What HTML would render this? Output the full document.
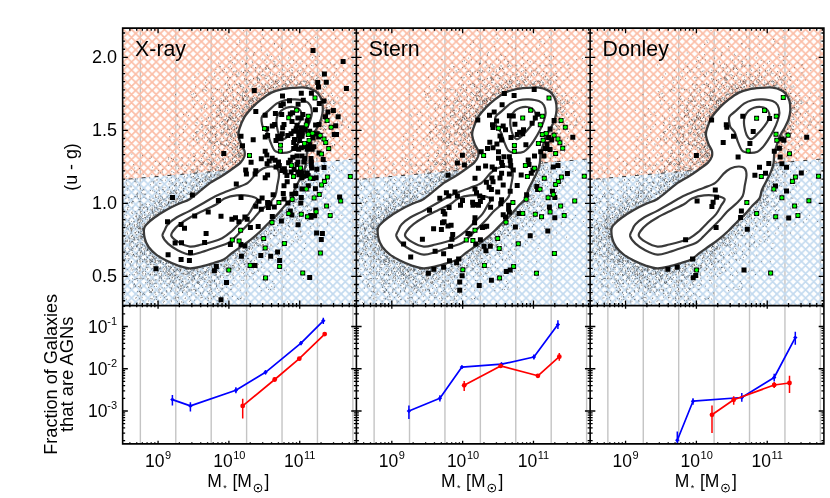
<!DOCTYPE html><html><head><meta charset="utf-8"><title>fig</title><style>html,body{margin:0;padding:0;background:#fff}svg{display:block}text{font-family:"Liberation Sans",sans-serif;fill:#000}</style></head><body>
<svg width="830" height="498" viewBox="0 0 830 498">
<defs>
<pattern id="hr" patternUnits="userSpaceOnUse" x="4.12" y="0.9" width="8.22" height="8.14"><path d="M-9.86 -1.63L1.64 9.77M-9.86 9.77L1.64 -1.63M-1.64 -1.63L9.86 9.77M-1.64 9.77L9.86 -1.63M6.58 -1.63L18.08 9.77M6.58 9.77L18.08 -1.63" stroke="#fbbda6" stroke-width="1.72" fill="none"/></pattern>
<pattern id="hb" patternUnits="userSpaceOnUse" x="4.12" y="0.9" width="8.22" height="8.14"><path d="M-9.86 -1.63L1.64 9.77M-9.86 9.77L1.64 -1.63M-1.64 -1.63L9.86 9.77M-1.64 9.77L9.86 -1.63M6.58 -1.63L18.08 9.77M6.58 9.77L18.08 -1.63" stroke="#c3daef" stroke-width="1.72" fill="none"/></pattern>
</defs>
<rect width="830" height="498" fill="#fff"/>
<defs><g id="cont"><path d="M238.5 135.6C238.2 133.1 238.4 132.0 239.4 128.9C240.4 125.8 242.3 120.6 244.4 117.1C246.5 113.6 249.2 110.8 252.0 107.8C254.8 104.8 258.1 101.9 261.3 99.4C264.5 96.9 268.0 94.3 271.4 92.6C274.8 90.9 277.9 90.1 281.5 89.3C285.1 88.5 289.4 88.2 293.3 87.9C297.2 87.6 301.7 87.2 305.1 87.6C308.5 88.0 311.4 89.0 313.6 90.1C315.9 91.2 317.2 92.5 318.6 94.3C320.0 96.1 321.3 98.4 322.0 101.1C322.7 103.8 322.9 107.5 322.8 110.4C322.7 113.4 322.0 116.1 321.2 118.8C320.4 121.5 318.9 124.2 317.8 126.4C316.7 128.7 315.4 130.5 314.4 132.3C313.4 134.1 312.9 134.8 311.9 137.3C310.9 139.8 309.4 144.8 308.5 147.5C307.6 150.2 307.2 150.7 306.8 153.4C306.4 156.1 306.6 160.4 306.0 163.5C305.4 166.6 304.5 169.1 303.4 171.9C302.3 174.7 300.7 177.4 299.2 180.4C297.7 183.4 295.6 187.0 294.4 190.0C293.2 193.0 293.6 195.8 292.0 198.4C290.4 201.0 287.2 203.1 284.8 205.7C282.4 208.3 280.2 211.3 277.6 214.1C275.0 216.9 271.9 219.7 269.1 222.5C266.3 225.3 263.7 228.2 260.7 231.0C257.7 233.8 254.2 236.9 251.1 239.4C248.0 241.9 245.4 243.6 242.2 245.8C239.0 248.1 235.2 250.6 232.1 252.9C229.0 255.2 226.8 257.9 223.7 259.6C220.6 261.3 217.3 261.9 213.6 263.0C210.0 264.1 205.7 265.5 201.8 266.4C197.9 267.3 193.9 268.5 190.0 268.4C186.1 268.2 182.1 266.8 178.1 265.5C174.2 264.2 169.9 262.3 166.3 260.5C162.6 258.7 159.2 256.9 156.2 254.6C153.3 252.3 150.5 249.7 148.6 247.0C146.7 244.3 145.5 241.6 144.8 238.5C144.0 235.4 143.7 230.9 144.1 228.4C144.6 225.9 145.8 225.3 147.5 223.5C149.2 221.7 151.4 219.8 154.5 217.5C157.6 215.2 162.4 212.2 166.3 209.9C170.2 207.7 174.2 205.8 178.1 204.0C182.1 202.2 186.1 201.3 190.0 198.9C193.9 196.5 198.4 192.3 201.8 189.6C205.2 186.9 207.1 185.0 210.2 182.9C213.3 180.8 216.9 179.1 220.3 177.0C223.7 174.9 227.0 172.6 230.4 170.2C233.8 167.8 238.2 164.8 240.5 162.6C242.8 160.3 243.6 158.7 244.3 156.7C244.9 154.7 244.9 152.9 244.4 150.8C243.8 148.7 242.0 146.6 241.0 144.1C240.0 141.6 238.8 138.1 238.5 135.6Z" fill="#fff" stroke="#3a3a3a" stroke-width="2.3" stroke-linejoin="round"/>
<path d="M262.1 116.3C263.2 114.6 265.6 113.3 268.0 111.2C270.4 109.1 273.7 105.4 276.5 103.6C279.3 101.8 281.8 100.9 284.9 100.2C288.0 99.5 291.6 99.2 295.0 99.4C298.4 99.6 302.6 100.1 305.1 101.1C307.6 102.1 309.1 103.3 310.2 105.3C311.3 107.3 311.9 110.4 311.9 112.9C311.9 115.4 311.2 117.5 310.2 120.5C309.2 123.5 307.7 127.2 306.0 130.6C304.3 134.0 301.9 137.9 300.1 140.7C298.3 143.5 296.7 145.7 295.0 147.5C293.3 149.3 292.2 150.8 290.0 151.7C287.8 152.6 284.0 153.0 281.5 152.8C279.0 152.7 276.6 152.5 274.8 150.8C273.0 149.1 271.9 145.5 270.6 142.4C269.3 139.3 268.5 134.8 267.2 132.3C265.9 129.8 263.9 129.0 263.0 127.2C262.1 125.4 261.8 123.1 261.6 121.3C261.5 119.5 261.0 118.0 262.1 116.3Z" fill="none" stroke="#3a3a3a" stroke-width="2.2" stroke-linejoin="round"/>
<path d="M271.4 166.5C273.8 166.5 276.0 167.0 277.3 168.5C278.6 170.0 279.0 172.5 279.0 175.3C279.0 178.1 277.9 182.0 277.3 185.4C276.7 188.8 276.6 193.0 275.2 196.0C273.8 199.0 271.7 200.7 269.1 203.3C266.5 205.9 262.3 208.9 259.5 211.7C256.7 214.5 254.9 217.3 252.3 220.1C249.7 222.9 246.8 225.6 243.8 228.6C240.8 231.6 236.8 235.8 234.2 238.2C231.6 240.6 231.1 241.5 228.2 243.0C225.3 244.5 221.3 245.5 216.9 247.0C212.5 248.5 206.3 250.7 201.8 252.0C197.3 253.3 193.9 254.9 190.0 254.6C186.1 254.3 181.8 252.2 178.1 250.4C174.4 248.6 170.6 246.0 168.0 243.6C165.4 241.2 163.2 238.2 162.6 236.0C162.1 233.8 163.8 232.1 164.7 230.1C165.6 228.1 166.0 226.3 168.0 224.2C170.0 222.1 173.1 219.6 176.5 217.5C179.9 215.4 184.1 213.8 188.3 211.6C192.5 209.3 197.6 206.4 201.8 204.0C206.0 201.6 209.4 199.3 213.6 197.2C217.8 195.1 223.4 192.9 227.1 191.3C230.8 189.8 232.6 189.3 236.0 187.9C239.4 186.5 244.4 185.3 247.8 182.9C251.2 180.5 253.7 176.0 256.2 173.6C258.7 171.2 260.5 169.7 263.0 168.5C265.5 167.3 269.0 166.5 271.4 166.5Z" fill="none" stroke="#3a3a3a" stroke-width="2.2" stroke-linejoin="round"/>
<path d="M277.3 116.3C278.0 114.8 279.2 112.6 280.7 111.2C282.3 109.8 284.5 108.5 286.6 107.8C288.7 107.1 291.3 106.8 293.3 107.0C295.3 107.2 297.0 107.6 298.4 108.7C299.8 109.8 301.4 111.9 301.8 113.7C302.2 115.5 301.7 117.5 300.9 119.6C300.1 121.7 298.4 124.2 296.7 126.4C295.0 128.7 292.6 131.1 290.8 133.1C289.0 135.1 287.1 137.2 285.7 138.2C284.3 139.2 283.5 139.6 282.4 139.0C281.3 138.4 279.9 136.9 279.0 134.8C278.1 132.7 277.2 128.8 276.8 126.4C276.4 124.0 276.4 122.2 276.5 120.5C276.6 118.8 276.6 117.8 277.3 116.3Z" fill="none" stroke="#3a3a3a" stroke-width="2.2" stroke-linejoin="round"/>
<path d="M257.1 199.0C257.9 200.7 254.9 203.2 253.5 205.7C252.1 208.2 250.8 211.3 248.6 214.1C246.4 216.9 243.2 219.5 240.2 222.5C237.2 225.5 233.6 229.6 230.6 232.2C227.6 234.8 225.1 236.6 222.1 238.2C219.1 239.8 215.9 240.8 212.5 241.8C209.1 242.9 205.5 243.7 201.8 244.5C198.0 245.3 193.9 247.0 190.0 246.6C186.1 246.2 181.2 243.7 178.1 241.9C175.0 240.1 172.2 237.8 171.4 236.0C170.6 234.2 171.7 233.0 173.1 231.0C174.5 229.0 177.0 226.4 179.8 224.2C182.6 221.9 186.1 219.8 190.0 217.5C193.9 215.2 198.9 212.9 203.4 210.7C207.9 208.4 213.4 206.1 216.9 204.0C220.4 201.9 221.2 199.8 224.5 198.4C227.8 197.0 232.6 195.8 236.6 195.4C240.6 195.0 245.2 195.2 248.6 195.8C252.0 196.4 256.3 197.3 257.1 199.0Z" fill="none" stroke="#3a3a3a" stroke-width="2.2" stroke-linejoin="round"/>
</g><path id="dots" d="m224.8 34.3h.70m17.7-3.8h.70m18.3 4.3h.70m52.9-4.2h.70m-90.4 7.6h.70m12.2 2.6h.70m20.3 1.1h.70m2.4-3.7h.70m14.8-1.1h.70m11.3-.4h.70m14.4 2.8h.70m.5 2.2h.70m7.6-4.3h.70m19.1 .9h.70m-99 6.2h.70m2-2.2h.70m20.6 4.3h.70m12.6-3h.70m-.6 .4h.70m3.2 3.1h.70m13.2-2.7h.70m12.7 .8h.70m4.2-1.8h.70m-91.6 9.6h.70m11.6-1h.70m12.8-1.3h.70m2-2.4h.70m5.7 4.3h.70m6.4-2.5h.70m19.1-1.7h.70m7.8 4.5h.70m5.9-1.7h.70m5.4-2.2h.70m-95.1 10.4h.70m21.3-2h.70m4 .7h.70m1.2-3.5h.70m.3 5.3h.70m8.7-1.7h.70m5.7-4.1h.70m-.5 1.3h.70m8.2 3.6h.70m3.6-4.7h.70m-.1 1.2h.70m2.4 4.3h.70m0-3.3h.70m6.1 .3h.70m.4 2.4h.70m8.7-1.3h.70m21.3-3.6h.70m.9 3.3h.70m2.7-1h.70m3.2-.1h.70m22.2 3h.70m5.5-.9h.70m-159.5 6.3h.70m27.7-1.8h.70m9.9-1.5h.70m1.2-.8h.70m1.1 1.7h.70m1.4 1.4h.70m7-2.6h.70m2.6 1.8h.70m-.7 1.4h.70m-.3-.7h.70m-.4-.4h.70m5-2.1h.70m-.5 1.3h.70m0 3.1h.70m3.3-1.6h.70m1.1 .8h.70m5.4-4.7h.70m.8 5.7h.70m-.3-3.8h.70m6.2-.8h.70m-.4 3.6h.70m.1-3.3h.70m-.7 1.6h.70m-.1 2.1h.70m2.2 .4h.70m3-.5h.70m.4 .6h.70m3.8-.1h.70m1.6-2.1h.70m3-3.1h.70m1.8 5.1h.70m-.4-3.8h.70m3 1.4h.70m1.3-1.8h.70m3.4 4.2h.70m4.4-.1h.70m1 .3h.70m1.6-1.6h.70m-.1-3.6h.70m-.2 4.5h.70m4.9-.5h.70m7.8-1.7h.70m2.7 2.2h.70m.3-.3h.70m-128.7 5.5h.70m8.3-.8h.70m3.1-2.9h.70m0 .2h.70m1.2 3.9h.70m1.4-1.2h.70m3.8-2.1h.70m.7-1.2h.70m.4 2.5h.70m1.2 3.1h.70m.9-.5h.70m.8-.4h.70m4.2 .4h.70m2.3-1.1h.70m.6 .6h.70m2.2-.2h.70m-.1 1h.70m1.5-4.4h.70m3.2 4.7h.70m-.6-4.4h.70m-.3 2.9h.70m-.6-2.4h.70m2.7 .1h.70m-.1 3.7h.70m-.3-5.1h.70m1.7 5h.70m-.5-1.7h.70m2.2-2.5h.70m-.7 1.4h.70m-.5 .5h.70m-.1-.7h.70m.4-2.7h.70m.3 2.1h.70m-.5 .4h.70m.5 1h.70m3-2.7h.70m.2-.2h.70m1.7-.3h.70m4.9 2.8h.70m.7 1.2h.70m3 1.3h.70m1-.9h.70m1.6-.8h.70m-.4-2.5h.70m-.4 3.3h.70m4.7 1h.70m-.3-1.3h.70m1.4 .3h.70m1.1-.7h.70m.3-1.3h.70m.4 3.1h.70m1.5-5.8h.70m3 5.5h.70m11.3-.1h.70m4.4-3.7h.70m8.4 .9h.70m6.4 2h.70m-149.2 6.7h.70m2.6-3.4h.70m10.1 3.1h.70m4.7-3.8h.70m-.2 3h.70m4.4-3.5h.70m2.5-.7h.70m2.5 .2h.70m.3 5.6h.70m-.5-.4h.70m2.2 .3h.70m1.5-3.4h.70m2.6 .2h.70m.1 2.2h.70m-.5-1.4h.70m.4 1.1h.70m0-3.6h.70m-.5 1.2h.70m4-1.5h.70m-.7 .2h.70m1.1 2.5h.70m1.5-2.6h.70m2.6-.6h.70m4.9 5.7h.70m.1-1.4h.70m-.7 1.3h.70m.3-3.6h.70m.3 .3h.70m1.5 1.1h.70m.3-.6h.70m.5 0h.70m.6 .8h.70m1.4 1.1h.70m1.3-1h.70m.4-2h.70m-.5-1.4h.70m1.4 1.9h.70m.8 .5h.70m1.6 .9h.70m-.2 1.5h.70m1.6-2.5h.70m-.6-2h.70m1.3 4.8h.70m.8-2.6h.70m0 2h.70m-.6-2.6h.70m.8 2.4h.70m2-.2h.70m1.6-1.2h.70m.6 2.1h.70m-.3-1.5h.70m-.4-3h.70m-.6 .5h.70m1.1 4h.70m-.4-.9h.70m-.6 1.2h.70m1.7-.6h.70m.2-1.7h.70m1.3-1.7h.70m.1 1.4h.70m1.6-.1h.70m.1-1.8h.70m1.2 .5h.70m1.6 2.1h.70m.8-1.5h.70m0 3.7h.70m1.3-.8h.70m-.6-.6h.70m.1-3.5h.70m-.4 .1h.70m2.5 2.6h.70m1.1 1.8h.70m.4-3.4h.70m.3 1.2h.70m1.5-1.8h.70m-.3 3h.70m.5 .4h.70m8.8 .3h.70m.2-4.4h.70m1.3 2.2h.70m-132.1 3h.70m0 4.8h.70m0-2.7h.70m2.6 2.7h.70m2.4-3h.70m4.5-1.4h.70m6.8 5.3h.70m2.3-3.5h.70m.1-2.2h.70m4.5 3.2h.70m3.7 2h.70m-.2 .4h.70m4.2-4.8h.70m-.7 .1h.70m0 2.1h.70m.3-1.6h.70m-.4-.2h.70m.3 4.6h.70m1-3.2h.70m-.5 0h.70m.8-.9h.70m-.4 2.5h.70m1.6-3.5h.70m-.4-.3h.70m.8 4.9h.70m1.4-4.8h.70m-.4 2.2h.70m-.6-1.2h.70m-.6-1.5h.70m-.7 4.5h.70m-.1-4.4h.70m-.1 4.6h.70m-.6-4.3h.70m-.5 1.1h.70m-.6 .9h.70m-.2-.7h.70m.9 3.6h.70m2.1-5.3h.70m.3 5.8h.70m-.1-5.5h.70m-.4 .2h.70m1.2 4.6h.70m-.3-2.8h.70m1.2-2.1h.70m.4 4.4h.70m-.6-2.8h.70m.7 .8h.70m-.6 1.2h.70m-.7 .2h.70m.6 1.9h.70m.4-2h.70m-.4-1.6h.70m-.7 1.1h.70m-.7 .4h.70m-.3 1.9h.70m-.1-1.9h.70m-.6-2.4h.70m-.1 3.7h.70m-.5 .5h.70m-.6-2.4h.70m-.1-.9h.70m-.7 2.2h.70m.3-1.3h.70m1.7-2.5h.70m.9 1.7h.70m-.2 .3h.70m.5 2.9h.70m-.2-1.8h.70m-.3 1.9h.70m-.6 .1h.70m.6-3.9h.70m.3-1.6h.70m-.1 2.4h.70m-.2 .8h.70m-.7 .8h.70m.3-2.7h.70m-.6 3.3h.70m-.3-.2h.70m-.3-3.3h.70m-.2 1.2h.70m0 1h.70m1.2-2h.70m1.8 1.3h.70m-.3 1.7h.70m1.3 1.3h.70m0-.3h.70m-.4-1.7h.70m-.4 .9h.70m-.2 .9h.70m.1-2.2h.70m.7-.6h.70m-.2 .7h.70m.1 .3h.70m-.5-1.1h.70m.1 1h.70m-.5 1.9h.70m-.3-2.2h.70m-.2 1.1h.70m.2-2h.70m.4 1.6h.70m-.2 1.1h.70m0-.5h.70m.6-3.5h.70m1.2 .5h.70m-.1-.7h.70m-.4 3.1h.70m-.3-1.4h.70m-.6 2.3h.70m.1-3.3h.70m.3 .9h.70m-.5-2h.70m-.3 4.4h.70m2.3-1.2h.70m1.3-2h.70m.3 .5h.70m6.5-.2h.70m7.3-.2h.70m-143.2 6.7h.70m7.7 2.8h.70m.6-3.3h.70m.7 1.4h.70m3.9 .6h.70m1.9 .7h.70m.7-.2h.70m1 1.2h.70m-.4-.4h.70m1.2 .2h.70m5.1-5h.70m.6 4.9h.70m.4 .1h.70m-.5-4.5h.70m-.2 2h.70m.5-2.7h.70m-.5 .7h.70m-.6 3.4h.70m2.1 .9h.70m-.6-2.2h.70m1.3-2.4h.70m1-.5h.70m.1 .1h.70m.5 3.3h.70m.4-2.8h.70m.4 .8h.70m-.4 .7h.70m-.6-2h.70m-.4 1.8h.70m.6 2.8h.70m-.1-2h.70m-.4 .6h.70m2.6 1.7h.70m.9-3.1h.70m-.1 .2h.70m.6-1.7h.70m.2 3.8h.70m-.5 1.2h.70m-.1-2.7h.70m-.1 2.3h.70m-.5-3.2h.70m.5-1.7h.70m-.6 1.6h.70m1.2 2.6h.70m-.5-3.1h.70m.1 2h.70m-.7 1.9h.70m1.3-2.7h.70m-.1-.7h.70m1.1 .8h.70m.1 1.3h.70m-.6 .9h.70m-.4-4.8h.70m-.5 2h.70m.4 1.4h.70m-.5-1.4h.70m-.6 3.1h.70m-.1-2.6h.70m-.3 2.9h.70m-.5-.9h.70m-.3 .8h.70m-.6-4.8h.70m.4 .3h.70m0 2h.70m-.6 2.6h.70m-.5-4.4h.70m-.4 1.6h.70m0 1.7h.70m-.6-.5h.70m-.1-3.5h.70m-.5 3.9h.70m-.3 .1h.70m-.3-1.9h.70m-.2 1.4h.70m-.5-.5h.70m-.2-2.2h.70m-.5 4h.70m.2-2.3h.70m-.2 0h.70m-.4 .6h.70m-.6-3.7h.70m-.7 3.4h.70m-.7 2.5h.70m.7-5.1h.70m-.7 4.1h.70m-.2-1.2h.70m0-1h.70m-.1-.2h.70m-.6 1.3h.70m.4 1.1h.70m-.3 .5h.70m-.4-4h.70m-.4 .7h.70m2.2 .1h.70m-.4-.1h.70m-.3 .6h.70m-.3-2.5h.70m-.4 .7h.70m-.2 3h.70m-.2-3.1h.70m0 3h.70m-.5-1.9h.70m-.5-.7h.70m-.3 3h.70m-.5-1.5h.70m0-1.8h.70m.1 .2h.70m-.7 1.3h.70m.2-1.5h.70m1.7 0h.70m-.7 2.8h.70m-.3 .1h.70m-.2-2.6h.70m-.1 2h.70m0-2.1h.70m-.3 2.2h.70m.2-3.3h.70m.7 .9h.70m.2 .5h.70m-.6-.5h.70m0-.9h.70m.4 .1h.70m.1 .5h.70m.7 .1h.70m.2 1.2h.70m-.1 1.5h.70m.1-1.2h.70m1.2 .9h.70m-.1-2.1h.70m-.4 .5h.70m-.3 1.8h.70m-.6-1.7h.70m-.5 .9h.70m-.1-.9h.70m-.4 .6h.70m-.4-.6h.70m-.2 1.8h.70m-.4-2.7h.70m-.1 3.8h.70m-.6-2.6h.70m-.5-1.4h.70m.4 2.7h.70m-.6 1h.70m-.6 0h.70m-.1-.8h.70m.3 .3h.70m.9-2h.70m-.6 3h.70m.5-.8h.70m.6-3.5h.70m-.3 3.6h.70m-.3 1.5h.70m-.2 0h.70m-.6 0h.70m.1-2.3h.70m2.3 1.8h.70m.7 .3h.70m-.5-3.1h.70m.4 1.1h.70m.4-1.3h.70m.2 1h.70m-151.9 7.6h.70m14.7-3h.70m.4 3h.70m1.1-.8h.70m.9-.5h.70m6.5-3.3h.70m-.2 1.1h.70m1.8-1h.70m.4 .7h.70m5 1.6h.70m8.8-2.2h.70m-.7 1.9h.70m.7 3.1h.70m-.2-.4h.70m-.6-1.8h.70m2.2-2.2h.70m1.3 2.5h.70m1 2.6h.70m-.6-4.8h.70m1 1.1h.70m-.3-1.9h.70m-.4 4.5h.70m-.5-4.5h.70m3.3 4h.70m-.5-1.6h.70m-.4-.3h.70m.5 .9h.70m.4 1.2h.70m0 1h.70m.7 .1h.70m-.4-.6h.70m-.2-1.6h.70m-.5-1.3h.70m-.1-.3h.70m.1 3.8h.70m-.7 .2h.70m0-3.3h.70m-.6-1.6h.70m-.2 .6h.70m-.2 .8h.70m-.4 2.8h.70m-.2-4.2h.70m-.4 .2h.70m.5 4.6h.70m2.9-1.9h.70m-.2-.2h.70m.5-.7h.70m.3-1.9h.70m1.7 2h.70m.4-.2h.70m-.7 2.8h.70m-.3-1.1h.70m-.4 .8h.70m-.2-2.5h.70m-.7 1.8h.70m-.5-.7h.70m0 .7h.70m-.5-3.2h.70m-.5 2.7h.70m-.4-4h.70m-.5 4.1h.70m-.1 1.5h.70m-.5-1.8h.70m0-.6h.70m-.2 1.5h.70m.4-1.3h.70m-.5-1.4h.70m-.5 1.4h.70m-.6-2.9h.70m-.2 2.3h.70m-.6-1.7h.70m-.2 4.1h.70m-.5-.1h.70m-.2-2.7h.70m-.7 3h.70m0-5.3h.70m-.1 2.5h.70m-.7 1.5h.70m-.6-2.6h.70m-.4 1.2h.70m-.2-.5h.70m-.7 .8h.70m-.5 .6h.70m.2-1.7h.70m-.5 .5h.70m-.3 .4h.70m-.6-1.8h.70m.6-.2h.70m1.3-.5h.70m-.1 .9h.70m.2-.3h.70m39.2-.6h.70m-.7 .6h.70m-.1-.7h.70m-.5 0h.70m.9 2.3h.70m-.1-1.3h.70m-.5 1.1h.70m-.7 1.4h.70m-.3-.1h.70m-.5-1.1h.70m1 .6h.70m-.3 1.6h.70m-.2-3.6h.70m.4 2.3h.70m0-.1h.70m3.9 2.3h.70m2.6-2.4h.70m.2 2.2h.70m10.2-2.3h.70m3.6-2.9h.70m-188.2 10.2h.70m31.5-3.1h.70m-.1 3.5h.70m1.4-3.7h.70m.9-1.2h.70m0 4.5h.70m8.7-.6h.70m3.6 1.7h.70m-.2-3.6h.70m-.4 .5h.70m.3 1h.70m-.3-2.8h.70m-.2 2.3h.70m.7 2.4h.70m1.3-1.2h.70m3.2-1.6h.70m-.2 1.8h.70m.7 1.4h.70m-.1-1.7h.70m-.6 .6h.70m-.3 .6h.70m.4-4.6h.70m-.6 4.7h.70m-.4-3.3h.70m-.3 1.2h.70m.1-3.2h.70m-.2 4.9h.70m-.4-3.9h.70m-.6 4.3h.70m-.3-.4h.70m2.2-1.2h.70m1.3 .3h.70m-.2-2.3h.70m-.4-1.3h.70m-.6 4.6h.70m1.7-2.2h.70m-.1 .6h.70m.7 .8h.70m-.2 .3h.70m.3-2.9h.70m2.1-.4h.70m-.6-1h.70m-.7 4h.70m-.6-1h.70m-.6-1h.70m-.1 .1h.70m-.7 1.3h.70m-.6 .8h.70m-.6-1.6h.70m-.7 1h.70m.8 .6h.70m-.3 .1h.70m-.6-4.1h.70m.9 3.2h.70m0-2.5h.70m-.7 .8h.70m-.2-1.8h.70m-.5 4.9h.70m-.5 .7h.70m-.4-.9h.70m-.1-.8h.70m-.3 .5h.70m-.2-.8h.70m-.5 1.3h.70m-.6-.2h.70m-.6-2.6h.70m-.4 3h.70m-.3-1.5h.70m-.2-1.6h.70m-.4 .5h.70m-.5 1.2h.70m-.7 .8h.70m-.5-1.7h.70m-.6 1.3h.70m-.2 1.6h.70m-.6-.9h.70m-.6-4.7h.70m-.5 2.4h.70m-.7 2.6h.70m.2-3.6h.70m-.4 .4h.70m-.2 1.5h.70m.2-.3h.70m-.6-1.7h.70m-.7 2.9h.70m-.3-.1h.70m-.6-1.8h.70m-.3 .3h.70m-.7 2.2h.70m-.6-4.1h.70m.8 1.2h.70m-.5 .3h.70m.2 1.1h.70m.5-.9h.70m-.5-.4h.70m1.7-1h.70m0 .1h.70m-.5-.9h.70m55.6 1.5h.70m.2-1.8h.70m-.4 0h.70m-.4 2.2h.70m0 1.3h.70m-.6 1.2h.70m-.5-3.7h.70m.6 4.1h.70m-.4-2.4h.70m.7 1.5h.70m1.1-.5h.70m-.6-3.7h.70m1.5 5.6h.70m.5-2h.70m.9 .4h.70m-.7 1h.70m3.4-3.4h.70m3.7 0h.70m8.6-1.5h.70m-158.7 10.9h.70m.3-3h.70m6.3-.6h.70m2.3 3.8h.70m-.6-1.5h.70m.5-1.5h.70m4.4 2.4h.70m.8-.8h.70m.3-1h.70m-.6 .6h.70m1.3-.1h.70m3.2-.4h.70m-.2-3.1h.70m-.7 3.7h.70m-.4 1.2h.70m.4-3.9h.70m-.3-.1h.70m1.1 2.3h.70m1.5 1.5h.70m.9-.3h.70m-.4-1.2h.70m1.1 .2h.70m-.2-1.5h.70m.6 2.5h.70m.7-.4h.70m-.5 1.7h.70m-.4 0h.70m-.5-3.8h.70m.6 1.5h.70m-.6-.6h.70m-.7 2.8h.70m.5-1.5h.70m-.5-1.5h.70m-.1 1.9h.70m.3-4.4h.70m-.5 3.1h.70m-.6 .3h.70m0 1.7h.70m1.6-1.9h.70m-.6 .4h.70m.1-3.7h.70m1.5 1.9h.70m-.3 3.6h.70m.1-.8h.70m-.2-2.1h.70m-.1 .4h.70m-.3 1.8h.70m.3-.1h.70m-.2 .5h.70m-.6-2.7h.70m-.1-.7h.70m-.6 2.4h.70m-.6 1.3h.70m-.6-5.1h.70m-.6-.2h.70m-.6 5.7h.70m-.6-4.5h.70m.9 .2h.70m-.6-.3h.70m-.5 2.1h.70m-.5-.1h.70m-.7 1.3h.70m-.5 .3h.70m0-.1h.70m-.6-4.4h.70m-.3 1.7h.70m-.3 .3h.70m-.6 .4h.70m.1 .4h.70m-.3 .2h.70m-.3-1.4h.70m.1-1.4h.70m.2 0h.70m66.2 .4h.70m-.3 .1h.70m-.5 .4h.70m.1 4.1h.70m.7-.4h.70m-.6-2.1h.70m-.5 2.8h.70m-.4-5.6h.70m-.5 1.1h.70m-.7 4.1h.70m.9-3.8h.70m-.3 3h.70m-.4-4.5h.70m.3 1.1h.70m.2 4.5h.70m1.2-4.3h.70m.2 .1h.70m-.6-1.5h.70m.5 .2h.70m2.5 .7h.70m.6-.1h.70m5 .8h.70m-178.7 6.7h.70m12.6-1.7h.70m4.9 3.5h.70m13.7-3h.70m0 1.6h.70m-.5-2.8h.70m4.1 .4h.70m3.6 4.3h.70m4.8-.6h.70m-.4 .8h.70m-.3-4.9h.70m-.7 2.4h.70m.9 .7h.70m-.5-3.1h.70m-.6 1h.70m0 1.4h.70m-.3-.1h.70m-.5 2.1h.70m-.6-2.1h.70m-.3 3.6h.70m-.5 0h.70m.5-2.9h.70m1.7 .3h.70m.3-2.8h.70m-.7 1.5h.70m1 .9h.70m1 2.5h.70m.9-3.7h.70m-.4 2.5h.70m-.5 .4h.70m-.7 .2h.70m.3-1.8h.70m-.1 2.6h.70m-.3-.2h.70m.9-2.3h.70m.1-.1h.70m-.5 2.3h.70m-.6-2.3h.70m0-2.3h.70m0-.3h.70m1.3-.2h.70m-.5 .7h.70m-.7 2.9h.70m0 1.5h.70m.8-2.2h.70m-.3 0h.70m-.7 .8h.70m-.6-3.4h.70m-.5 1.2h.70m-.4 3h.70m-.5-1h.70m-.2-2.7h.70m-.6 4.3h.70m-.5-3.8h.70m-.7 1.3h.70m.4 1.8h.70m-.6-2.4h.70m.3 3.3h.70m-.6-1.4h.70m.2 0h.70m-.3-3.8h.70m.3 .7h.70m-.6 .6h.70m.5-.2h.70m-.4 .4h.70m0-.9h.70m.1-.9h.70m71.2 3.8h.70m-.1-2.9h.70m-.5 3.3h.70m-.2-1.8h.70m-.6-1.7h.70m-.5 4.8h.70m.6-5.3h.70m-.4 1.2h.70m.1 2.7h.70m.3 0h.70m-.1-.3h.70m0-1.2h.70m-.2 1.2h.70m-.2-2.5h.70m1.8 4.4h.70m3.9-.3h.70m1.1-1.7h.70m.9-.6h.70m-165 3.9h.70m.2 1.1h.70m5-1.6h.70m4.2 1.1h.70m5.9 .4h.70m1.2 2.1h.70m-.1 1h.70m3.7-.9h.70m2.5-3h.70m1.2 3.8h.70m.8-1h.70m-.5-.3h.70m.9-.6h.70m1.7-2.5h.70m.4 3.6h.70m.6 .8h.70m1.2-3h.70m-.7 1h.70m-.6-.4h.70m.4-1.2h.70m-.4 .1h.70m.1 1.6h.70m-.2-1.9h.70m.7 2.5h.70m-.5-2.7h.70m.1 2h.70m1 2.9h.70m-.4-.3h.70m-.1-5h.70m.1 5h.70m.2-1.4h.70m-.6-2h.70m0 3.6h.70m.6-.1h.70m-.4-3.4h.70m-.7 1.2h.70m-.5 .2h.70m-.6-2.7h.70m-.5 2.9h.70m-.3-.7h.70m-.4-1.4h.70m-.2 2.9h.70m-.6-3h.70m-.7 2.6h.70m-.7 1.4h.70m-.5-5.7h.70m-.5 4.1h.70m-.2 1.6h.70m-.4-3.3h.70m0 .9h.70m-.3 .9h.70m-.6 0h.70m-.6 .5h.70m1.3-.3h.70m-.2-3.4h.70m-.5 2.1h.70m-.7 .3h.70m0-.4h.70m-.2-1.6h.70m0 3.1h.70m-.4 1.1h.70m0-5.2h.70m.2 2.2h.70m.2-.7h.70m.1 1.1h.70m-.5-1.4h.70m-.5-.3h.70m-.6 .5h.70m-.5 2.5h.70m-.5-1.8h.70m-.6-1.5h.70m-.2 3h.70m-.4-1.5h.70m-.1-1.6h.70m.3 .9h.70m-.2-.4h.70m-.5 .6h.70m76.3 2.6h.70m-.3-3.2h.70m-.2 .2h.70m-.7 .9h.70m.4 3.1h.70m0-2.7h.70m0 2.4h.70m-.5-4.6h.70m-.7 2.6h.70m-.1 1.8h.70m.5-4.4h.70m.4 .3h.70m1.2 3h.70m1.1-3.7h.70m1.7 3h.70m4.8-1.9h.70m1.6 3.7h.70m2.4-2.3h.70m-.1 2.3h.70m5.1-5.1h.70m-175.5 10.9h.70m6.4-4h.70m2.5 3.4h.70m7.4 1.2h.70m-.6-3h.70m.4 .6h.70m3.7 1.2h.70m0-3.4h.70m-.4 3.9h.70m2.2 .8h.70m.4-4.1h.70m-.4 3.9h.70m.7-.1h.70m.8-4.3h.70m1.6 .2h.70m2.8 1.7h.70m.8-1.8h.70m-.3 2.5h.70m1.5 1.6h.70m-.3-.6h.70m.9-2.2h.70m-.2-.8h.70m-.3 .1h.70m-.3 3.1h.70m-.3-.9h.70m.5 1h.70m-.5-.7h.70m-.3-3.9h.70m-.5 5h.70m-.1-1.6h.70m.4-2.6h.70m-.6 .6h.70m-.5 .4h.70m-.6-1.6h.70m-.4 .6h.70m-.6 4h.70m-.2-5.1h.70m.9 5h.70m.1 .8h.70m-.1-1.7h.70m0-1.5h.70m.1-2h.70m.1 4.3h.70m-.4-4.4h.70m-.5 1.1h.70m-.3-.4h.70m.3 3.7h.70m-.6-3.6h.70m-.4 2.8h.70m-.3 .1h.70m.8-2h.70m-.6-1.1h.70m-.7 3.2h.70m-.6-3h.70m-.2 .1h.70m0 3.8h.70m-.2-5.1h.70m0 2h.70m-.6 .8h.70m-.1-1.8h.70m-.6 3.3h.70m-.5-1.2h.70m-.2-.4h.70m77.5 .1h.70m-.1-.9h.70m-.4 2.3h.70m-.4-1.1h.70m-.5-1.5h.70m-.5 3.7h.70m-.4-5.3h.70m-.7 3.1h.70m-.1-2.3h.70m-.2 4.8h.70m.3-3.9h.70m-.5 .8h.70m-.3 3.2h.70m.6-2.5h.70m1.8-1.1h.70m-.2-.5h.70m-.3 2.4h.70m.8-.2h.70m1.6-1.2h.70m2.5 1.9h.70m.3-2.6h.70m3.1 3.6h.70m-.4-.7h.70m.2-3h.70m-.6-1.2h.70m-.4 4.3h.70m.5-2.8h.70m5.8 .1h.70m-172 4.6h.70m3.2 2.6h.70m1.7-2.7h.70m10.2 4.9h.70m.1 .2h.70m.1-.5h.70m1.2-1.9h.70m1.3-2.5h.70m-.7 .6h.70m.1-1.3h.70m-.5 4.4h.70m2.5-.7h.70m.4-.9h.70m.1-1.2h.70m-.1 2.5h.70m.9 1.3h.70m-.6-3.8h.70m-.2-1.1h.70m.3 1.2h.70m-.4 .5h.70m-.6-2.3h.70m-.1 .6h.70m-.3 .6h.70m-.1-.5h.70m-.7 3.1h.70m-.3-1.7h.70m-.2-2.2h.70m.3 .2h.70m.2 5.4h.70m-.3-4.1h.70m2.3-1.4h.70m-.2 .5h.70m.1 4h.70m1.5-1.7h.70m-.3 2.7h.70m-.6-1.8h.70m0-1.4h.70m-.4-1.1h.70m1.5-1.1h.70m-.7 3.1h.70m-.2-1.7h.70m-.6 1.3h.70m-.5-.4h.70m-.5-1.6h.70m-.1 2.5h.70m-.2 .5h.70m-.5-.5h.70m.9-.3h.70m-.5 2.5h.70m-.5-3h.70m0-1.4h.70m.2 2.8h.70m-.1-3.6h.70m-.2-.2h.70m-.7 1.8h.70m-.7 1.4h.70m-.5 .4h.70m-.2-2.8h.70m-.6 1.5h.70m.6-.3h.70m-.5-.8h.70m-.7 1h.70m.1-1.3h.70m0 3.8h.70m-.2-.1h.70m76.8-.3h.70m0 0h.70m-.6-.1h.70m-.3 1.1h.70m-.6-.5h.70m.1 .1h.70m-.6-3.7h.70m1.2 .5h.70m-.7 1.3h.70m-.6 .2h.70m.3-.5h.70m.5-2.2h.70m-.4-.3h.70m-.3 4h.70m-.5-1.1h.70m-.3-2.3h.70m-.1 1.4h.70m0 1h.70m-.3 .4h.70m-.3-3.3h.70m-.7 2.8h.70m5.5 1.3h.70m2.1 .8h.70m4.3-4.3h.70m7.8 .1h.70m-.5-.3h.70m-179.7 9.6h.70m2.1-3.1h.70m6.3 2.1h.70m3.3-3.3h.70m9.4 3.5h.70m1.4-3.2h.70m-.3 4.2h.70m-.5-4.2h.70m0 1.1h.70m5 2.2h.70m-.2-.9h.70m1.5-.3h.70m-.6-2.3h.70m.5 1.4h.70m.5 3.8h.70m1.6-3.7h.70m-.6-1.6h.70m1.3 1.8h.70m-.2-.8h.70m-.5 4.3h.70m1.6-3.4h.70m-.5 2.3h.70m-.5-2h.70m-.6 3h.70m-.4-1.2h.70m-.5-1h.70m-.5-1.4h.70m.6 1.2h.70m2.4-2h.70m-.2 1.9h.70m-.6-2.1h.70m-.2 .1h.70m.3 1.1h.70m-.5-1.2h.70m-.5-.5h.70m2 .1h.70m-.6 2.2h.70m0-.9h.70m-.5 1h.70m-.1 3h.70m-.2-2.1h.70m-.3-1.2h.70m.6-1h.70m-.6-.9h.70m-.4 2.8h.70m-.3-2.4h.70m-.6 3.3h.70m-.5-1.9h.70m-.1 1.7h.70m-.6 1.1h.70m.1-1.4h.70m-.6-1.9h.70m1.4-.6h.70m-.6 1.3h.70m-.4 2.2h.70m-.5-1.5h.70m-.4-.4h.70m-.7 1.4h.70m.2-4.1h.70m-.4 .4h.70m-.5 .3h.70m-.6-.7h.70m-.4-.1h.70m-.6 2h.70m-.7 3.5h.70m-.5-3h.70m-.7 .6h.70m75.5 .1h.70m-.7 .8h.70m0-1.9h.70m-.3 .9h.70m-.6-2.3h.70m-.7 3.1h.70m0 .4h.70m-.6-3.6h.70m.1-.6h.70m.2 2.1h.70m-.5 3.3h.70m-.2-3.6h.70m-.1-1.8h.70m.1 .7h.70m-.2-.2h.70m.1-.3h.70m-.7 .3h.70m1 .8h.70m-.2 1.9h.70m.1-2.2h.70m-.7 .5h.70m2.3-.4h.70m2.7 4h.70m3.2-.2h.70m5.3-3h.70m-170.8 6h.70m3.3-.2h.70m5.1-.3h.70m3.5 .7h.70m5.3-1.5h.70m2.5 .1h.70m-.7 .9h.70m2.5 .1h.70m-.3 .3h.70m.2 2.8h.70m.2-4.8h.70m-.3 .8h.70m-.6 4.1h.70m2.3-4.2h.70m1.7-.8h.70m2.2 2.3h.70m.7-1.2h.70m-.5 3.1h.70m-.6-3.5h.70m-.2 3h.70m-.5-1.1h.70m-.3 .1h.70m-.3 1.5h.70m.5 .8h.70m-.5 .1h.70m.2-1.4h.70m.4 .4h.70m-.1 1.4h.70m-.2-3.8h.70m-.5 3h.70m0-3.8h.70m0 2.9h.70m-.4-.2h.70m-.2 0h.70m.9-2.4h.70m.6 4.3h.70m-.5-4.7h.70m-.5 3.9h.70m-.4-1.5h.70m-.7 2.2h.70m1.1-1.7h.70m-.2-3.4h.70m1 2.5h.70m.6 3.1h.70m-.6-3.3h.70m-.3 .2h.70m-.5-1.7h.70m.1 1h.70m.3 2.5h.70m.1-2.3h.70m0 2.1h.70m-.6-4h.70m-.6 4.1h.70m.4-3h.70m-.3 3.6h.70m.6-5.1h.70m-.6 2.7h.70m-.6 3h.70m-.5-5.4h.70m-.1 5.3h.70m.5-3.1h.70m-.6-.4h.70m1.2 3.4h.70m-.3-3.5h.70m-.5 3.1h.70m-.5-.1h.70m-.2-3.5h.70m-.7 .4h.70m.2 1.1h.70m-.6 .5h.70m-.4 2.2h.70m69.9-.9h.70m-.1 .8h.70m-.4-3.6h.70m-.6 .5h.70m-.3 1.2h.70m-.7 1.1h.70m-.3-4h.70m.9-.6h.70m-.3 .8h.70m-.6 2h.70m-.7 1h.70m-.1-.3h.70m-.5-1.6h.70m.7 1.8h.70m-.4 1.6h.70m.3-2.5h.70m-.4-2.6h.70m-.4 3.3h.70m1.9-1.3h.70m2.2-2.1h.70m.4 4.8h.70m2.1-3.6h.70m2.1 4h.70m1.8-5h.70m5.4 2.4h.70m5-1.5h.70m-177.2 6.8h.70m5-2.2h.70m3.6 .4h.70m0 3h.70m7.1-3.4h.70m1.8 1.8h.70m3.2 .1h.70m9.2 1.5h.70m1-2.4h.70m1.8 3h.70m4.6-1.6h.70m-.7 2.1h.70m-.5-1.4h.70m.2-1.6h.70m0 .1h.70m2.7-.9h.70m-.7 3.1h.70m.6 1.5h.70m.6-4.7h.70m.4 0h.70m-.6-.3h.70m.5 .8h.70m0 3.3h.70m-.2-3.2h.70m-.1 .6h.70m-.7 .4h.70m.5-1.4h.70m.1 .3h.70m-.2 4.5h.70m-.4-4h.70m-.1 .6h.70m-.4-1.1h.70m-.1-1.1h.70m-.4 3.9h.70m-.1-.3h.70m.3 0h.70m-.2 .8h.70m-.2-2.6h.70m-.6 4h.70m-.6-.4h.70m-.5-.7h.70m.7-1.5h.70m-.5-3.1h.70m0 .8h.70m-.4 .1h.70m-.7 .2h.70m-.6 4.2h.70m-.3-1.6h.70m.4-.5h.70m-.6-.8h.70m-.6 .9h.70m-.6-1.2h.70m-.3 3.1h.70m-.5-2.9h.70m-.6 2.7h.70m-.2-4.1h.70m.3 2.6h.70m-.6-1.9h.70m-.6 2.6h.70m-.7 .2h.70m-.6-2.3h.70m-.1-.1h.70m-.6-1h.70m-.5 2.2h.70m.2 2.3h.70m0-2.3h.70m-.6 2.6h.70m65.8-1.4h.70m-.7 1h.70m0-2h.70m-.6 1.8h.70m-.5 .2h.70m.4-.9h.70m-.3-1.6h.70m-.4-1.2h.70m-.7 .2h.70m1.1 1.6h.70m-.6-1.3h.70m-.3-1.7h.70m-.7 4.3h.70m-.2 .3h.70m-.2-2.9h.70m-.4 2.3h.70m1.3-.8h.70m3.1 1.8h.70m-.3-.2h.70m1.5-5.2h.70m.1 .6h.70m2.5 4.5h.70m0-2h.70m3.1-.5h.70m-.4-1.2h.70m1.3-1h.70m-.7 .4h.70m7.3 1.4h.70m-211.3 7.7h.70m9.8 1.3h.70m26.1-5.4h.70m2.2 4.9h.70m5.5-.2h.70m7-4.5h.70m3.6 4.8h.70m2.9-1.6h.70m.9 1.9h.70m4.6-3.3h.70m1.6 1.3h.70m0 2.4h.70m-.2-5.2h.70m-.5 3.1h.70m-.4-.4h.70m-.3-2.2h.70m1.3 1.9h.70m3.3 1.7h.70m-.1 .2h.70m.1-2.1h.70m-.4 1.5h.70m-.5 .3h.70m1.5-4.1h.70m-.7 4.9h.70m-.3-1.5h.70m-.5 .9h.70m1.4-.4h.70m.1-3.6h.70m.1 1.3h.70m1.3 3.3h.70m-.3-.4h.70m-.4-2.5h.70m-.3-.9h.70m-.1-.6h.70m3 3.1h.70m2.2-1.9h.70m.7 2h.70m.6 1.4h.70m-.6-.8h.70m-.3 .2h.70m-.6-3.1h.70m-.6 .5h.70m.2-2.2h.70m-.6 3h.70m-.6-1.4h.70m.2 1h.70m-.6 2.8h.70m-.3-5.4h.70m.5 4.8h.70m-.5-.4h.70m-.5-2.8h.70m-.3-.6h.70m-.6 0h.70m-.4 2.4h.70m-.5 .6h.70m-.5-.9h.70m-.6 2.5h.70m-.6-3h.70m-.4-1h.70m-.5 3.4h.70m-.5-.3h.70m-.3-1.7h.70m-.4 .1h.70m-.7 2.5h.70m-.6-5.4h.70m-.3 3h.70m-.1-.3h.70m-.7 2.1h.70m-.1-1.4h.70m-.5 1.6h.70m-.5-3.4h.70m-.6 3.4h.70m64.8-3.4h.70m-.6 1.1h.70m-.4 .2h.70m-.3-2.4h.70m-.4 .2h.70m-.3-.5h.70m.4-.4h.70m.2 .6h.70m-.6 2.2h.70m-.2-1.6h.70m.3-1h.70m-.3 1.8h.70m1.5-1.1h.70m10.4-.2h.70m-.4 3h.70m3.2-2.2h.70m13.6 2.8h.70m-195.8 4.2h.70m.9-1.5h.70m3.4 4.4h.70m10.5-.2h.70m.7-3.6h.70m-.6 1.4h.70m2.5-.6h.70m.1 3.1h.70m.4-2.1h.70m2.7 .3h.70m4.2-2.3h.70m-.4 1.3h.70m5.4-1h.70m4.4-1.2h.70m-.5 4.5h.70m.4-4.6h.70m-.7 3.6h.70m-.6 .6h.70m-.5-.8h.70m3.1 .8h.70m.1 .9h.70m.9-1h.70m-.4-2.1h.70m.7-2h.70m.9 5.3h.70m1-4.8h.70m.2 2.5h.70m.3 .3h.70m.2-.4h.70m-.3-1.8h.70m-.4 2.6h.70m.4 1.3h.70m1.5-3.2h.70m-.5 1.4h.70m.1 1.5h.70m1.2-1h.70m1.1-.3h.70m.2-2.1h.70m.4 1h.70m-.2 2.1h.70m1.1 .1h.70m-.1-2.2h.70m-.6-2.4h.70m-.5 3.2h.70m.1-.3h.70m-.7 .5h.70m.8-1.4h.70m-.4 2.9h.70m-.6-1.6h.70m.8-2.7h.70m.4 2.2h.70m-.2-1.9h.70m-.5-.7h.70m-.4 5.1h.70m.2-5.5h.70m-.4 4h.70m-.5 1.7h.70m1-3.2h.70m-.6 .3h.70m-.6 .7h.70m-.4 1.8h.70m.1-3.3h.70m-.1-1.6h.70m-.3 3.8h.70m-.5-3.4h.70m-.5 .3h.70m-.2 3.8h.70m-.7 .7h.70m-.4-5.6h.70m.1 .2h.70m-.7 4.1h.70m-.5-2.4h.70m.8-2.1h.70m-.4 1.4h.70m-.4 2.7h.70m-.2 .6h.70m-.5 1.2h.70m-.6-4.8h.70m-.6-.8h.70m-.6 4.4h.70m-.5-4.6h.70m-.6 .5h.70m0 .4h.70m-.5 1.2h.70m-.4 2.5h.70m64.8-2h.70m.4 2.7h.70m-.2-.3h.70m-.4 .8h.70m.9-3h.70m1.1-1.5h.70m-.6-.7h.70m3.4 4.2h.70m-.6-2.8h.70m-.6 .9h.70m1.7-2.8h.70m1.5 5.1h.70m-.4-3.6h.70m-.2 3.9h.70m3-1.4h.70m2.4-2.1h.70m9.5 0h.70m11.3 2.8h.70m-218.1 3.7h.70m18.1 2.6h.70m5.9-2h.70m-.3-1.9h.70m.2 1.1h.70m7.8 1h.70m2.3 .6h.70m4.1-1.1h.70m.7 1.2h.70m-.6-2h.70m2.6 2.1h.70m.1-1.4h.70m-.1 .4h.70m2.9 .1h.70m.9 .3h.70m.2-1.5h.70m.9 .8h.70m3.4-.2h.70m1.7 1.7h.70m-.5-.3h.70m2.4-3.8h.70m-.7 4.5h.70m0-2.2h.70m.1-.5h.70m-.4 .8h.70m-.6-1.9h.70m-.1 1.5h.70m-.6-2.4h.70m-.2 .4h.70m-.3 .9h.70m1.5 .8h.70m.4 1.4h.70m-.6-1.8h.70m0 .6h.70m.2-.9h.70m.5 3.4h.70m-.6-2.5h.70m0 .1h.70m0-2.5h.70m-.7 3.2h.70m-.5-1.3h.70m-.6 .1h.70m-.6-1.4h.70m-.3 2h.70m-.6 3.3h.70m-.3-4.6h.70m-.5 4.1h.70m-.1-5.2h.70m.4 1.2h.70m.8 1.2h.70m-.6 2.3h.70m.2 .9h.70m-.6-1.5h.70m.1 1.3h.70m-.1 .1h.70m-.3-2.5h.70m1.2-2.3h.70m1 2.5h.70m-.7 .9h.70m-.3 .8h.70m-.3-4.2h.70m-.5 5h.70m.2-5.2h.70m-.2-.3h.70m.6 1.5h.70m-.6 .7h.70m-.2-.2h.70m.4-.1h.70m-.3 2.2h.70m0-3.3h.70m.4-.1h.70m.1-.6h.70m.4 5.1h.70m-.5-.4h.70m-.6-4.5h.70m-.7 2h.70m.6-.1h.70m.5-2.5h.70m.1 .2h.70m-.7 .3h.70m-.5 2.1h.70m-.2 1.2h.70m.4-3.1h.70m.2 .8h.70m67.1 3.2h.70m-.6 0h.70m-.7 .4h.70m-.6-2h.70m.1-1.6h.70m-.6 2h.70m-.2-2h.70m.1 .2h.70m-.6-1.3h.70m-.5 3.4h.70m-.6-2.6h.70m-.3 1.6h.70m-.5 .6h.70m1 1.6h.70m-.5-4.6h.70m1.3 4.9h.70m2.4 .4h.70m.5-1.3h.70m1.3-.2h.70m.1-.1h.70m.5-1.5h.70m1.9 .3h.70m-.4-1.9h.70m3.6 4.4h.70m2.8-1.2h.70m0 1.4h.70m9.1-4.6h.70m-212.6 7.6h.70m2.7 1.2h.70m-.5-3.9h.70m1.4 4.6h.70m2.1-4.1h.70m11.6 1.6h.70m2.4 .8h.70m2.4 2h.70m-.5-2.2h.70m1.3 2.2h.70m1.5-.9h.70m-.4-2.3h.70m8.3 1.9h.70m1.3 .9h.70m3-.6h.70m.2-3.6h.70m-.3 4.1h.70m3 .8h.70m1.6-1.6h.70m-.5-3.6h.70m-.7 3.6h.70m.6-1.6h.70m3.1 1.6h.70m0 1.5h.70m0-3.2h.70m0-.4h.70m.1 .6h.70m-.7 1h.70m0-2h.70m.6 2.9h.70m.8 .8h.70m-.2-4.7h.70m-.7 3.8h.70m-.6-1.6h.70m-.4-1.2h.70m-.6 2.3h.70m-.3 .7h.70m.4-1.6h.70m2 .7h.70m2.4-1.2h.70m0 2.9h.70m1.4 .3h.70m-.2-3.8h.70m-.7 2.3h.70m.3 .2h.70m-.7 .4h.70m.4-2.8h.70m-.4 1.5h.70m.7-1.6h.70m.1 1.2h.70m-.4 1.2h.70m-.3-.3h.70m.8-2.7h.70m-.1 1.5h.70m-.5-.5h.70m-.7 3.2h.70m-.6-.3h.70m-.6-3.9h.70m1.5 2.1h.70m-.4-1.1h.70m-.1 2.4h.70m.7-4.2h.70m-.6 2.7h.70m-.2 2.1h.70m.6-4.3h.70m-.7 .5h.70m-.4-.3h.70m-.5 5.2h.70m-.5-.7h.70m-.4-3.5h.70m-.7 2h.70m-.1-2.5h.70m-.3 .7h.70m-.7 1.2h.70m-.2-2.1h.70m.4-.8h.70m-.5 3.8h.70m.1 .5h.70m2.2-2.3h.70m1-1.7h.70m0-.5h.70m71.8 2.6h.70m-.1-.5h.70m-.7 3.2h.70m-.6-3h.70m-.7 .4h.70m-.6-2.1h.70m1.3 .6h.70m-.6 1h.70m.4 2.7h.70m-.4-1.1h.70m-.1-2.8h.70m-.4-.8h.70m.4 1.9h.70m1.2-.4h.70m0-.7h.70m.4 2.4h.70m-.5 .6h.70m.8 .4h.70m-.5-3.4h.70m-.7 3.1h.70m.4-2.9h.70m.7 4.5h.70m3.1-2.1h.70m4.9 .4h.70m7.1-1.8h.70m2.1 1.3h.70m1.8-1.2h.70m-215.9 6.3h.70m5.9 3h.70m1.6 .3h.70m-.3-1.1h.70m.8 .1h.70m5.3-4.5h.70m5.7 3.4h.70m1.5-3.2h.70m3 1.4h.70m.9 3.8h.70m3-.2h.70m1.6-4.3h.70m3.3 2.1h.70m.1-2.4h.70m1.6-.5h.70m.8 3.2h.70m1.9-1.8h.70m.5 3.8h.70m0-1.3h.70m1.6 .3h.70m.6 1.1h.70m3.5-2h.70m-.4-1.4h.70m1.9 1.5h.70m-.1-2.8h.70m2.4-.5h.70m-.3 2.5h.70m0 .2h.70m.6-.8h.70m-.6 1.6h.70m-.5-1.6h.70m.4-1.7h.70m-.6 3.2h.70m.1 .1h.70m.2 1.7h.70m-.5-.3h.70m-.1-.1h.70m-.1-4.5h.70m-.7 3.8h.70m-.1-2.2h.70m-.6 2h.70m1.4 1.1h.70m.1-3.5h.70m-.5-1.1h.70m0 2.7h.70m-.4-2.7h.70m.8-.9h.70m-.7 3.8h.70m-.3 1.4h.70m.2-2.7h.70m-.5 2.9h.70m-.4-1.6h.70m-.5-.6h.70m-.7 1.3h.70m0-2.6h.70m-.3-.8h.70m-.1 3.9h.70m-.5 .2h.70m-.5-2.4h.70m.1 .1h.70m-.5 2.2h.70m-.3 .7h.70m-.6-2.2h.70m-.5-.6h.70m0-1.9h.70m-.7 1h.70m-.3-.8h.70m-.5-1.1h.70m-.7 5.5h.70m-.5-3.2h.70m1 .9h.70m.1 2.4h.70m-.4-3.7h.70m-.6-1.9h.70m-.6 1.2h.70m-.5-.4h.70m-.3 3.9h.70m-.4 0h.70m-.6-4.3h.70m.8 1.4h.70m-.5-1.5h.70m-.7 3.3h.70m-.3-3.6h.70m-.7 1.7h.70m-.1 2.3h.70m-.5-2.7h.70m-.4-1.6h.70m-.4 4.1h.70m-.4-2.7h.70m-.6-1.4h.70m.1 1.2h.70m-.5-.1h.70m.5 .4h.70m2.3-1.4h.70m76.5 3.3h.70m.8-1.8h.70m.1 .9h.70m0-1.8h.70m-.6 3.5h.70m.5-3.2h.70m-.1 .6h.70m1.3 1.6h.70m-.6 1.9h.70m.1-2h.70m-.5 2.6h.70m-.1-5.5h.70m-.7 .9h.70m-.1-.2h.70m.1 2.7h.70m2.7-2.9h.70m1.9 1.5h.70m4.6 2.3h.70m6.6-2.7h.70m-204.7 7.3h.70m-.2-2.9h.70m-.6 4h.70m.4 1.4h.70m5.9-4.4h.70m.6 .2h.70m-.4 1.4h.70m.6 2h.70m1.3 .3h.70m10.6-.4h.70m.6-2.9h.70m.8 1.2h.70m-.6-1.1h.70m.7-.9h.70m.4 4.1h.70m.1-5.1h.70m1.9 3.6h.70m.7 0h.70m.5-3.1h.70m2.8-.3h.70m2.7 3.8h.70m-.1-2.4h.70m.8 2.2h.70m-.5-3.1h.70m.4 1.9h.70m-.1 1.5h.70m.8 1.3h.70m-.7 .4h.70m.2-.9h.70m.2 .9h.70m-.3-2.3h.70m1.7-3.1h.70m-.2 4.9h.70m.3-2.3h.70m1-.3h.70m-.5-.2h.70m.4 2.6h.70m.8-2.6h.70m-.5-1.1h.70m0 1.9h.70m-.5-.9h.70m-.4-.1h.70m-.5 1.3h.70m2.7-.5h.70m-.7 1.7h.70m.2-4h.70m-.6 1.2h.70m-.4 3.9h.70m.5-.1h.70m-.4-.8h.70m-.2-2.5h.70m.2 2.3h.70m.3-4.5h.70m.2 3.9h.70m-.4 1.5h.70m-.4 .2h.70m-.5-5.4h.70m-.7 .4h.70m-.7 5h.70m.4-3.6h.70m-.6 1h.70m.4-1.8h.70m-.7-.1h.70m-.5 .9h.70m-.7 2h.70m.1-1.9h.70m.8 2.2h.70m-.6-.3h.70m-.4-2.8h.70m-.5 .1h.70m-.7 .2h.70m-.2-1.3h.70m1.3 .8h.70m.2-.9h.70m-.6 .5h.70m-.3 2.6h.70m-.5-3.3h.70m0 2h.70m.2 .2h.70m-.1 .1h.70m-.6 .9h.70m-.1 .5h.70m0-2.8h.70m0 1h.70m-.6-1.5h.70m-.1 1h.70m-.4-.9h.70m-.4 .7h.70m-.3 .2h.70m-.6-.9h.70m-.4-.2h.70m-.4-.4h.70m84.7 3.8h.70m.4 1.2h.70m-.2-4.4h.70m.3-.1h.70m-.5 2.2h.70m-.2 1.3h.70m-.5-2.9h.70m-.6-.3h.70m-.6 3.5h.70m-.6-.9h.70m.6-2.4h.70m.2 1.7h.70m-.5-.5h.70m-.2 2.4h.70m-.3-3.5h.70m-.5 .4h.70m-.6 1.8h.70m-.4 1.1h.70m1.7-4h.70m-.6 3.2h.70m-.6 1.9h.70m1.7-5h.70m-.2 5.1h.70m.9-5.5h.70m-.5 2.7h.70m2-.4h.70m2.1 2.5h.70m5.9 .5h.70m1.4-2.6h.70m0 2.4h.70m-.6-4.1h.70m2.3 1.6h.70m11.5 1.2h.70m-217.2 6.3h.70m-.1-1.6h.70m2.5-2.5h.70m-.7 .8h.70m1.3 2.6h.70m6.8-.9h.70m1 1.9h.70m.4-1h.70m0 .4h.70m5.7 .5h.70m1.5 .3h.70m.5-3.7h.70m-.4 4.6h.70m1.4-2.7h.70m1.9-2h.70m-.7 .9h.70m-.6 2.3h.70m0 .8h.70m2.5-1.8h.70m-.7 .4h.70m-.6-2.2h.70m-.1 2.5h.70m.2 1.5h.70m-.1-3.7h.70m2.3 2.6h.70m.8-2.7h.70m-.6-.5h.70m.3 4.2h.70m.7-2.2h.70m-.3-1.1h.70m.1 2.7h.70m0 .1h.70m.1-.7h.70m-.5 1.2h.70m1-1h.70m1.3-.5h.70m-.2-2.6h.70m1.4 4.5h.70m-.6-3.9h.70m1.1 .9h.70m-.5 1.8h.70m-.4 .4h.70m-.4-2.4h.70m-.7 1.4h.70m-.6 1.3h.70m.3-4.8h.70m-.3 0h.70m2.1 1.3h.70m.1-.1h.70m1 4h.70m-.6-3.4h.70m.1 3.6h.70m-.4-2.5h.70m-.3-.4h.70m-.6 1.9h.70m-.2-3.1h.70m-.2-.6h.70m-.2-.9h.70m-.4 5.2h.70m-.7 .3h.70m.3-1.5h.70m.2 .1h.70m.4-3.7h.70m-.4 2h.70m-.6 1.3h.70m-.2 .6h.70m.2 .7h.70m-.6 .4h.70m-.3-2.7h.70m-.6-1.7h.70m-.3 1.6h.70m-.4-2.2h.70m.1 3.5h.70m-.2-1.5h.70m-.5 .1h.70m-.5-1.8h.70m.1 1.2h.70m.2 0h.70m.6-1.9h.70m89.9 5.3h.70m-.5-1.9h.70m-.5 1h.70m-.4-.2h.70m-.6-2.2h.70m-.7 .9h.70m.2-2.7h.70m-.3 5.5h.70m-.4-5h.70m.3 1.9h.70m-.2 1h.70m-.3-3.5h.70m-.4 1.3h.70m0-.6h.70m.3-.8h.70m1 4.3h.70m-.2-4.4h.70m-.1 2.1h.70m.4 2.1h.70m2.2-2.1h.70m-.3 3.3h.70m-.5-1.3h.70m3.6-3.7h.70m1.5 2.6h.70m6 2.8h.70m2.2-2.6h.70m3.1-2.4h.70m-204.9 9.4h.70m.2-1.8h.70m1.9 3.2h.70m-.2-.5h.70m5.2-.5h.70m-.5-.2h.70m.4-1.9h.70m.1-1.3h.70m-.6 3h.70m-.5-3.2h.70m-.5 3.8h.70m-.6-1.9h.70m3.2-2.3h.70m.6 1.1h.70m.4 3.5h.70m-.6-3.3h.70m.1 .4h.70m.1-.2h.70m3.4 2.6h.70m5-1.1h.70m-.6 .6h.70m-.5 1.2h.70m-.4-3.4h.70m-.3 3.2h.70m-.5-4.7h.70m.8 4.1h.70m.5-3.1h.70m0 .3h.70m-.3 2.1h.70m.8 .6h.70m-.1 1h.70m3-.6h.70m.3-4.1h.70m-.3 4h.70m-.3-4.6h.70m.1 2.9h.70m-.3 2.7h.70m-.5-4.6h.70m-.1 4.6h.70m-.2-4.6h.70m-.3 2.4h.70m-.6-3.6h.70m-.6 .4h.70m-.7 1.3h.70m-.7 2.3h.70m-.7 1.3h.70m-.6-1.6h.70m.9-2.4h.70m-.7 2.9h.70m-.2 .1h.70m-.3 .8h.70m-.6-3.9h.70m-.6 2.5h.70m.9-3.5h.70m.1 1.1h.70m-.2-.2h.70m-.6-.5h.70m.7 4.7h.70m-.4-.9h.70m-.4-.3h.70m-.1-2.3h.70m-.7 1.8h.70m.3-3.4h.70m-.7 4.8h.70m-.4-1h.70m-.4 .7h.70m-.3-4.6h.70m.6 3.2h.70m-.3 .8h.70m-.4 1.3h.70m-.3-.2h.70m-.2-.6h.70m1-3.4h.70m.2 .2h.70m0 .7h.70m0-1.6h.70m-.2 1.7h.70m-.5 0h.70m-.3-.1h.70m-.1 3.3h.70m.2-5.2h.70m0 .4h.70m-.5 .3h.70m-.3 2.9h.70m-.3-2.4h.70m.9-.5h.70m.8-.1h.70m-.7 .2h.70m97.9-.3h.70m-.7 2.5h.70m.6 .8h.70m-.4-1.3h.70m-.5 2h.70m-.5-1.4h.70m1-.4h.70m.2 .8h.70m-.4 1.5h.70m0-1.9h.70m-.7 2.2h.70m0-1.6h.70m4.2-3.4h.70m-.1 2.6h.70m1.5 1.7h.70m1-.7h.70m2.4-.9h.70m.5-.7h.70m-.1 1.2h.70m1.6-3.6h.70m3.1 .3h.70m.9 .1h.70m21.4 .4h.70m-220.2 10.3h.70m-.2-4.9h.70m.5 4h.70m.1 1.4h.70m.4-3.7h.70m-.1 2.4h.70m1.3 .1h.70m-.5-4.1h.70m-.4 5.2h.70m-.2-2.5h.70m-.6 .7h.70m.1-.5h.70m4.5-2.7h.70m-.3 2.9h.70m0 .2h.70m0-3h.70m-.4 2.5h.70m3.7 2.5h.70m.1-5.5h.70m3.3 1.2h.70m-.4 1.1h.70m.3-.4h.70m1-1.8h.70m-.6 3h.70m-.5-.3h.70m.5 .1h.70m-.6 2.1h.70m.1-.5h.70m-.7 1h.70m1.7-2.7h.70m-.2-2.8h.70m-.5 4.2h.70m-.2 .6h.70m-.4-3.1h.70m-.6 1.5h.70m-.6 .8h.70m-.1-1.8h.70m-.5 .4h.70m-.5-2.1h.70m-.2 4.5h.70m-.3-3.2h.70m-.3 2.4h.70m.1-3.5h.70m.6 1.1h.70m-.6-.8h.70m.2 4.2h.70m-.6-4.8h.70m.2 2h.70m.2-.3h.70m.7 3.2h.70m-.5-1.6h.70m-.7 1.4h.70m-.6-1.5h.70m-.7 .5h.70m-.5-3.6h.70m-.6 3.8h.70m-.4-1.5h.70m0 .9h.70m-.5-2.5h.70m.1 3.5h.70m-.3 0h.70m-.7 .8h.70m-.1-1.6h.70m.1-.6h.70m-.2 2.1h.70m-.3-2.3h.70m-.7 .4h.70m.3-.7h.70m.4 1.6h.70m-.1-2.8h.70m-.7 1.4h.70m-.1 .9h.70m-.5-3.5h.70m-.4 1.2h.70m-.4-1.3h.70m-.2 .5h.70m-.4 2.8h.70m-.5 .9h.70m-.5-.6h.70m0-1.8h.70m-.6 2.4h.70m-.5-4.3h.70m0 1.7h.70m.1-.9h.70m-.1 2.4h.70m-.6-3.7h.70m-.4 2.7h.70m-.4-1.3h.70m105.9 3.3h.70m-.6 1h.70m-.6-1.6h.70m-.3-.5h.70m-.4 1h.70m-.5-.2h.70m.8-1.4h.70m-.3 2h.70m-.3-3.1h.70m-.7 .4h.70m-.5 1.7h.70m-.5-1.7h.70m-.4-1.4h.70m-.4 2.1h.70m-.7 2.4h.70m-.1-.6h.70m.5-3.8h.70m-.3 3.4h.70m-.5-1.2h.70m-.5-1.4h.70m-.6-.2h.70m.2 3.1h.70m-.1-3.1h.70m-.4-1.1h.70m.4 3.1h.70m-.7 2.2h.70m.5-1.4h.70m-.5-1.1h.70m-.6 1.5h.70m-.2-1.5h.70m1.9 .5h.70m.3-3.2h.70m1.5 4.4h.70m1.5-4.7h.70m1.3 3.1h.70m11.8-3.4h.70m1 .3h.70m-202.4 11h.70m3.1-1.3h.70m-.6 1.6h.70m-.4 .3h.70m-.4-2.4h.70m-.4-1.8h.70m3.8 2.3h.70m5.2 1.4h.70m-.3 .5h.70m-.2-2.5h.70m-.5 1.9h.70m-.5-2.1h.70m-.1 .8h.70m-.1-3h.70m.2-.2h.70m-.6 5.1h.70m-.2-4.9h.70m-.5 3h.70m-.3-.5h.70m-.1 .8h.70m-.1-1.4h.70m.5 .4h.70m-.1-2.9h.70m-.5 2.5h.70m0 2.8h.70m-.6-1.8h.70m-.5 1.9h.70m-.6-1.5h.70m.9-3.8h.70m.4 4.6h.70m-.4-3.3h.70m.6 2h.70m-.7 1.6h.70m-.3 .3h.70m-.4-3.8h.70m-.7 2.3h.70m.8 .9h.70m-.5-3.1h.70m-.3 1.6h.70m-.6 .2h.70m.8-2.9h.70m-.4 2.8h.70m-.6-1.8h.70m-.7 2.1h.70m-.5 .6h.70m0 1.1h.70m-.4 .2h.70m.1-1.4h.70m-.3 .3h.70m-.2-4.3h.70m-.7 1.8h.70m-.1 .2h.70m-.1 3h.70m-.6-.6h.70m-.7 .3h.70m-.5-4.9h.70m-.2 2.4h.70m-.5 .6h.70m-.3-1.5h.70m.3 3.6h.70m0 .1h.70m-.2-3.2h.70m-.4-2.1h.70m0 .7h.70m0 .1h.70m-.7 4.3h.70m-.4-3.6h.70m.2-.9h.70m-.3 0h.70m-.5 3h.70m-.1-1.4h.70m.1-.2h.70m-.7 .5h.70m.5 .4h.70m.1-1.1h.70m-.1 1h.70m-.6-.3h.70m.8-1.7h.70m1.1-.6h.70m-.7 .6h.70m110.2 4.2h.70m.3-4.6h.70m-.2 3h.70m.2-1.5h.70m-.7 3.6h.70m-.2-5h.70m-.2 3.3h.70m.3-3.2h.70m.5 5h.70m.5-4.2h.70m-.4-.2h.70m-.4 1.2h.70m-.1 1.8h.70m.2-.1h.70m-.2-.7h.70m.6-2.7h.70m.4 .5h.70m.5-.3h.70m0 2.5h.70m-.4-3.1h.70m2.7 1.8h.70m1.2 0h.70m.1-.5h.70m.3 1.1h.70m-.6-.9h.70m.6-.9h.70m-.4 4.5h.70m.3-5.6h.70m.9 5.9h.70m9.5-5.9h.70m.1 4.3h.70m.1 .7h.70m6-2.6h.70m.2-2.4h.70m-207.2 10.4h.70m.6-2.6h.70m-.5 .1h.70m-.1 3.7h.70m4.1-2.8h.70m-.1-.8h.70m-.3 1.5h.70m1.9-1.9h.70m.4 2.1h.70m-.7 1.7h.70m.1-2.1h.70m1.6 2.5h.70m.4-3.6h.70m0-.7h.70m-.2 2.3h.70m0 1.4h.70m1.6-2.8h.70m-.7 0h.70m-.6 2.6h.70m-.6 .2h.70m1.6-3.7h.70m.1 3.8h.70m-.3-1.7h.70m-.1 1.5h.70m-.4-2.6h.70m.2 1.5h.70m0 1.5h.70m-.4-5.5h.70m.2 .6h.70m-.6 2.6h.70m-.6-1.9h.70m-.5 1.5h.70m-.6-1.7h.70m-.4 .7h.70m-.4 4h.70m-.4-1.7h.70m-.5-1.3h.70m-.6 3h.70m-.2-.7h.70m-.5-3h.70m-.3-1.6h.70m-.4 5.4h.70m-.5-4.3h.70m-.3 2.7h.70m-.4 .2h.70m-.6-.6h.70m-.6-2.2h.70m-.1 4.1h.70m-.3-3.5h.70m-.5 2.1h.70m-.5 0h.70m-.5-.1h.70m-.1-1.7h.70m-.7 .9h.70m0-.7h.70m-.7 1.8h.70m.1-2.9h.70m-.6 1.1h.70m-.3 .9h.70m-.5-3.3h.70m-.7 1.2h.70m-.4 1.7h.70m-.6-.2h.70m.3-1.2h.70m-.2-1.7h.70m-.7 2h.70m-.5-.4h.70m0-1.4h.70m0 .5h.70m114.8 3h.70m-.1 1h.70m0-1.9h.70m.1-1.7h.70m-.5 3.7h.70m-.6-1.1h.70m-.4-3h.70m-.2-.3h.70m-.7 3.9h.70m0 1.2h.70m-.4-.8h.70m.3-1.9h.70m.1-.4h.70m-.3-2.5h.70m-.2 .4h.70m-.4 5h.70m-.6-3.3h.70m-.2 1h.70m.9 2h.70m-.5-1.1h.70m-.4-.5h.70m.6 1.6h.70m-.4-.2h.70m-.4-1h.70m2.9-1.9h.70m-.6-1.9h.70m.4 1.4h.70m.4 2.4h.70m.1-.6h.70m.8 1.3h.70m.2-.7h.70m.4-2.2h.70m.3-1.5h.70m.3 2.4h.70m2.4 2.5h.70m-.4-.2h.70m0-4.3h.70m-.6-.1h.70m1.3 4.4h.70m.4-4.5h.70m18 .3h.70m3.9 1.9h.70m6.9 2.7h.70m-217.7 4.3h.70m-.4 .7h.70m0-1.4h.70m2.4 1.5h.70m.2-1.7h.70m1 2.6h.70m1.1 .3h.70m-.5-3.4h.70m.2 3.5h.70m.2-5.5h.70m.2 .7h.70m-.4-.4h.70m-.2 1.6h.70m-.4 2.8h.70m-.3-1.1h.70m-.4 .9h.70m-.3-1.2h.70m-.5 .4h.70m-.5-1.7h.70m-.5-2.1h.70m-.5 3.1h.70m-.3-1.6h.70m-.2 3.4h.70m-.4-2.3h.70m-.5-2.1h.70m.1 3.3h.70m-.6-2.3h.70m-.1-1.2h.70m-.2 4.3h.70m-.6 .6h.70m-.5-2.8h.70m-.6-.2h.70m.9-.7h.70m-.2-.3h.70m-.3 .2h.70m-.7 1.4h.70m.5-2.3h.70m-.4 3.2h.70m-.6 1.7h.70m-.6-4.5h.70m-.1 2.8h.70m.3 1.4h.70m-.3-.5h.70m-.5-3.1h.70m-.6 .8h.70m-.6 1.2h.70m-.7 .7h.70m-.6-1h.70m-.4-1.9h.70m-.4 2.1h.70m-.4-2.9h.70m-.7 1.1h.70m-.5 2.4h.70m-.7 .7h.70m.2-2.3h.70m-.1 .4h.70m-.4-1.9h.70m-.6 1h.70m118.8 2.3h.70m.5-.3h.70m.8-1.4h.70m-.7 2.6h.70m-.5-3.5h.70m-.6 .6h.70m.5 1.1h.70m-.3-.9h.70m-.5-2.1h.70m.1 1h.70m-.5 3.1h.70m.5-4.2h.70m-.7 5h.70m0-2.2h.70m-.4-2.1h.70m.1 .3h.70m-.3-1.1h.70m.1 0h.70m-.5 0h.70m.7 2.2h.70m-.4-1.2h.70m-.6 1.6h.70m1.6 1.5h.70m-.1-1.8h.70m1.7 2.4h.70m.5-2.1h.70m.9 .7h.70m.1-2.8h.70m1.3 4.2h.70m-.5-4.2h.70m-.1 .4h.70m-.4 2.9h.70m-.4-.9h.70m-.2-.7h.70m-.5-1.9h.70m-.7 4h.70m-.5-3.8h.70m.9 4h.70m-.2-3.8h.70m-.6 2.8h.70m.6 1.6h.70m-.2-1.1h.70m-.5-3.8h.70m5.2 4h.70m-.2-.5h.70m9.7-2.3h.70m19.7 1.9h.70m10.3 1.9h.70m-226.9 1.3h.70m-.6 1.8h.70m-.2 1.4h.70m.1-.8h.70m-.6-.6h.70m-.6 2.8h.70m.6 .1h.70m.1-1.8h.70m-.7 .9h.70m.1-1.5h.70m.3-2.8h.70m-.5 2.2h.70m-.6 .2h.70m-.6-1h.70m-.1 .1h.70m.1 3.9h.70m.6-3.6h.70m-.4 3h.70m1-2.6h.70m-.6 1h.70m-.3 .8h.70m.8-1.9h.70m-.2 2.5h.70m-.4-.8h.70m-.5-.8h.70m-.6-1.4h.70m-.6-.9h.70m-.5 4.3h.70m-.1-.6h.70m.2-4.2h.70m-.6 .1h.70m-.7 3.2h.70m-.6 1.9h.70m-.5-3.7h.70m-.3 2.9h.70m-.5 .4h.70m.7-4.3h.70m-.1 1.7h.70m-.5 2.4h.70m-.3-1h.70m-.3-2.3h.70m0 1.4h.70m-.3-2.2h.70m-.3 .8h.70m-.1 .8h.70m1.4-2.1h.70m.3-.2h.70m-.7 .5h.70m-.3-.3h.70m118.8 2.4h.70m-.4 1h.70m-.3-.1h.70m-.5-2.9h.70m-.1 3.1h.70m-.7 1.3h.70m-.4-1.6h.70m-.5-2.4h.70m-.4 1.4h.70m-.2-.6h.70m-.7 1.2h.70m-.6-2.9h.70m-.5 2.9h.70m.6-.7h.70m-.5 1.1h.70m-.1-3.7h.70m-.6 .2h.70m-.7 5.6h.70m.8-.8h.70m1.9-1.6h.70m-.5 0h.70m.5-1.8h.70m2.1 2h.70m1.5-2.8h.70m.5 1.4h.70m2.1-1.2h.70m-.3-.4h.70m-.6 2.9h.70m-.2 1h.70m-.1 .3h.70m2.5-3.6h.70m-.7 1.1h.70m2.1 2.1h.70m2.3 .3h.70m.7-2.2h.70m9.8 2.3h.70m2-2.7h.70m5.2 1.8h.70m7.5-1.7h.70m-.3-1.3h.70m7.7-.8h.70m-213.1 8.6h.70m-.7 1.8h.70m1.3 .3h.70m.5-.9h.70m-.6-3.1h.70m-.2 4.4h.70m.4-4.1h.70m1-.7h.70m-.2 1.6h.70m-.6 3.4h.70m-.6-5h.70m-.7 .8h.70m-.6-1h.70m-.6 3.7h.70m-.6-.9h.70m-.3-.9h.70m-.6 .1h.70m-.4-.9h.70m.2-.8h.70m1.1 4.3h.70m-.3 .1h.70m-.6-4.1h.70m-.4 3.9h.70m.4-1h.70m.8-3h.70m-.6 2.9h.70m-.7 .7h.70m-.6-4.1h.70m-.6 4.4h.70m-.2-4.1h.70m-.7 .5h.70m.1-.6h.70m-.6 4h.70m-.5-3.5h.70m-.2 4.6h.70m-.5-4.8h.70m-.7 2.4h.70m-.2 .7h.70m-.3-2.7h.70m-.6 4.5h.70m-.3-4.2h.70m-.6-.7h.70m-.4 1.5h.70m-.6-1.6h.70m-.5 .3h.70m-.4 1.4h.70m-.4-1h.70m-.6 .3h.70m-.7 2.9h.70m-.6-1.1h.70m-.4-2.8h.70m-.7 3.9h.70m114.4 .5h.70m-.4-.2h.70m-.3-.6h.70m1.3 1.2h.70m1.4-4.3h.70m-.7 4.7h.70m-.5-1.9h.70m.4-1.3h.70m-.2-2.3h.70m.1 3.2h.70m-.7 1.7h.70m-.5-1.5h.70m1.2-2.8h.70m-.6 4h.70m.4-1.7h.70m-.1 2.7h.70m-.6-.6h.70m-.2-3.4h.70m-.5 .6h.70m-.4 2.9h.70m1.6-3.6h.70m-.1 .6h.70m-.5-.6h.70m-.7 1h.70m.5 2.4h.70m0-.4h.70m1-2.1h.70m-.4-1.2h.70m1 .2h.70m0 2.6h.70m3.6 1.5h.70m-.2-5.1h.70m1.8 1.1h.70m2.9 1h.70m.7-.6h.70m2.7 3.4h.70m2.8-1.5h.70m-.6-1.1h.70m0 .7h.70m6.6 1.5h.70m2-4.8h.70m11.2 4.6h.70m-199.6 3.5h.70m-.6-.5h.70m.9 2.3h.70m-.6-2.9h.70m1.1-1.4h.70m.6 3.3h.70m-.6-1.2h.70m-.5 2.6h.70m-.1-.8h.70m.5 .3h.70m-.4-2.1h.70m-.6 .3h.70m0 2.6h.70m-.4-3.6h.70m-.7 .4h.70m.3 4h.70m-.4-2.5h.70m-.4-.1h.70m-.4 1.5h.70m-.7 .9h.70m-.6-1.7h.70m.8 2h.70m-.5-5.1h.70m0-.1h.70m-.6 2.8h.70m-.1 2.1h.70m-.1-1.8h.70m0 1.3h.70m-.6-2.3h.70m-.5-.8h.70m1.1 2.4h.70m-.6-2.3h.70m-.7 .9h.70m-.4-1.1h.70m-.5 .9h.70m-.5 2h.70m-.5-1h.70m-.6-1.2h.70m-.4-2.2h.70m-.7 .1h.70m-.5-.2h.70m-.6 3.3h.70m-.6-.8h.70m-.4-.2h.70m-.4-2.4h.70m-.4-.2h.70m-.7 2.8h.70m-.2-.9h.70m-.6-.6h.70m-.6 4.1h.70m-.6-4.1h.70m-.2 2.7h.70m108-.3h.70m-.5 1.6h.70m-.2-.4h.70m-.4 .4h.70m-.2-1.3h.70m.4-.6h.70m-.5-.8h.70m-.7 .9h.70m-.7 .7h.70m-.6 .2h.70m-.1-2.6h.70m-.5 1.9h.70m-.6 1.7h.70m-.6-1.5h.70m-.1 1.5h.70m-.5-1.4h.70m.1 .8h.70m-.2-4.7h.70m.2 3.5h.70m-.5-2.5h.70m-.5-.7h.70m-.7 4.3h.70m-.3-1.4h.70m-.4-2.2h.70m.8 1.4h.70m-.6 1.6h.70m0-.1h.70m0 1.1h.70m-.6-3.9h.70m2.5-.2h.70m-.5-.3h.70m-.6-.5h.70m.3 2.7h.70m.6 1.7h.70m2.2-3h.70m-.2-.4h.70m.1 .6h.70m-.4-.2h.70m1.1 .2h.70m2.1 3.2h.70m2.9-1.8h.70m.3-1.7h.70m2.4 1.2h.70m7.6 .4h.70m1.1-.4h.70m.2 3h.70m2.2-3h.70m.4-.6h.70m11.5-.3h.70m17.5 1.4h.70m-208.4 4.9h.70m-.5-.9h.70m-.5-.3h.70m0-.3h.70m-.5 .9h.70m.2-1.4h.70m-.6 1.4h.70m-.5-1.3h.70m1.1 1.6h.70m-.6-.8h.70m-.5 3.1h.70m-.4 1.5h.70m.3-2.3h.70m-.7 1.5h.70m-.4-2.6h.70m-.3-.4h.70m.4-.4h.70m-.5 .2h.70m.1 1.3h.70m.2-2.7h.70m.5 3.7h.70m.2 1.7h.70m0-.8h.70m-.7 .8h.70m-.2-3h.70m-.2 2.1h.70m-.3-4.6h.70m.6 2.9h.70m.5 1.4h.70m.1-1.8h.70m-.5-2.5h.70m-.5 5.1h.70m-.5-.9h.70m-.3 .4h.70m.1-3.9h.70m-.2 1.2h.70m-.4-1.7h.70m-.6 5.2h.70m-.5-4.1h.70m.9 3h.70m-.3 .7h.70m.2 .2h.70m96.5 .5h.70m-.3-1.8h.70m0 .5h.70m.5-1.4h.70m.6-1h.70m.2 0h.70m-.1 1.6h.70m.1 1.5h.70m-.2-3.5h.70m.2 .9h.70m-.1 2.8h.70m-.1-2.5h.70m.4 1.9h.70m-.7 1.1h.70m-.6-3.3h.70m-.3-1.7h.70m-.3 2.4h.70m-.1 .2h.70m-.3-1h.70m-.6 2.3h.70m-.4-4.3h.70m-.2 4.9h.70m-.3-1.8h.70m0 2h.70m-.5-4.4h.70m.5 3.5h.70m-.4 .6h.70m.5-4.2h.70m-.7 4.8h.70m0-5.6h.70m-.6 2.2h.70m-.6 2h.70m-.3-3h.70m-.6 3.9h.70m.1-.9h.70m1.3-4h.70m.9 2.9h.70m-.1-1.4h.70m-.7 2.6h.70m2.2 1.3h.70m-.6-1.7h.70m-.3 1h.70m5.8-.9h.70m-.1-.9h.70m2.7-.5h.70m1.9 1.4h.70m1-1.4h.70m.1-.2h.70m-.6-1h.70m4 2.5h.70m-.3-3.5h.70m.7 .7h.70m3 .5h.70m2.3-1.7h.70m4.6 3.2h.70m-181.4 6.6h.70m-.1 .8h.70m-.4-2.1h.70m2.2-.5h.70m-.2 3.3h.70m-.2-2.3h.70m-.1 .7h.70m.3-.6h.70m-.2-2.8h.70m-.6 3.6h.70m-.6-2.3h.70m-.4 2.7h.70m-.3-2.3h.70m-.1 .6h.70m0-2.5h.70m.6 2.6h.70m.5-2.4h.70m-.4 .4h.70m-.1-.2h.70m1 3.7h.70m-.6-1.3h.70m-.3-.4h.70m-.5 1.4h.70m.6-1.9h.70m-.5 2.1h.70m-.4 .9h.70m-.6-3.4h.70m-.3-.3h.70m.8 1.6h.70m.1-.2h.70m-.5 1.7h.70m-.5 1.2h.70m-.4-5.2h.70m-.1 1.6h.70m-.4-.4h.70m-.6 1.9h.70m-.5-3.5h.70m-.1 4.5h.70m-.3-2.8h.70m-.5 2.4h.70m-.6-.8h.70m-.6 .1h.70m-.6 .4h.70m-.5-1.5h.70m-.3-1h.70m-.2 2.7h.70m-.6-1.2h.70m0 2.9h.70m1.6-1.4h.70m.4 1h.70m0 .4h.70m84.1-1.3h.70m-.1 .9h.70m-.7 .4h.70m-.6-2.2h.70m-.5 .4h.70m2.1-3.3h.70m-.4-.5h.70m-.6 4.6h.70m-.5-4.8h.70m-.2 5.4h.70m-.1-3.9h.70m-.6 .4h.70m-.6 2.9h.70m-.1 .7h.70m-.4-5h.70m-.5-.6h.70m-.7 .2h.70m-.6 5.6h.70m-.6-2.3h.70m-.2-3h.70m.1 1.2h.70m-.7 2.6h.70m-.5-.3h.70m-.5 .4h.70m0-.5h.70m-.3-1.3h.70m-.1-1.8h.70m-.6 1.6h.70m-.1 .7h.70m-.7 .2h.70m-.6-2.9h.70m-.7 2.1h.70m-.5-1.3h.70m-.2 .6h.70m.6 1.5h.70m-.1-.9h.70m-.5-1h.70m5.7-1.2h.70m3.1 1h.70m-.6 2.9h.70m2.3-1.2h.70m1.1-2.3h.70m0 1.8h.70m-.4 2.7h.70m.2-1.9h.70m2.8-3h.70m1.5 5.2h.70m-.5 .5h.70m.6-1.9h.70m3.6-.8h.70m.3-2.6h.70m-.1 3.5h.70m-.5-4.1h.70m5.7 .8h.70m14.6 1.7h.70m-180.8 5.5h.70m.8 2.5h.70m-.3-3.7h.70m-.3 1.6h.70m-.3-.3h.70m-.3-.2h.70m-.3-.5h.70m-.7 .7h.70m-.3-.9h.70m-.5 2.6h.70m1-2h.70m1.2 .5h.70m-.4-1.9h.70m-.7 3.4h.70m.5-1.5h.70m-.6 .3h.70m-.7 .2h.70m.3 .9h.70m-.3 .9h.70m.6-3h.70m-.7 3.4h.70m-.4-.6h.70m-.1-2.2h.70m-.3-1.4h.70m-.2 3.9h.70m.5 0h.70m0-.9h.70m-.7 1.9h.70m0-5.3h.70m-.3 4.3h.70m-.6-4.6h.70m.4 .8h.70m-.7 1.2h.70m-.3-.6h.70m-.2 1.7h.70m.4-1.1h.70m-.7-.2h.70m-.4-1h.70m-.4 1.7h.70m.8-.6h.70m-.2 2.8h.70m-.5 .9h.70m-.3-.1h.70m.7-2.3h.70m-.3 0h.70m-.1-1.9h.70m.1 .1h.70m-.6-1h.70m-.7 .3h.70m-.6 2.5h.70m-.5-1.9h.70m.2 2.9h.70m-.3-.1h.70m-.6-3.8h.70m-.6 4h.70m-.5-1.6h.70m-.4 2.8h.70m-.4 .1h.70m-.4-5.2h.70m-.4 3.9h.70m-.6 .3h.70m-.6-4.3h.70m1 2.1h.70m-.4 3h.70m.1-2.2h.70m-.5-.1h.70m.5 .5h.70m.7 2.2h.70m1.2-.1h.70m64.7 .1h.70m2.5-2.2h.70m.5-1.8h.70m.4 1.1h.70m0-2.3h.70m-.7 2.8h.70m-.6-1.9h.70m-.2-.7h.70m.3 0h.70m-.1 1h.70m-.4 3.7h.70m-.6-1.9h.70m-.4 1.1h.70m-.2 1h.70m0-1.8h.70m-.5-2.4h.70m-.5 .3h.70m1.4-1.8h.70m-.5 1.1h.70m-.6 3.9h.70m.1-.4h.70m.3-3.1h.70m.4 1.6h.70m-.6-.7h.70m-.7 2.5h.70m.3-1.3h.70m-.6-2.5h.70m-.4 .6h.70m0 2.3h.70m-.6-3.4h.70m.4 1.2h.70m-.5 2.1h.70m.8-2.2h.70m3 .5h.70m-.2-1.3h.70m-.3-.9h.70m-.5 3.6h.70m.3-.3h.70m.1-3.1h.70m.6 2.1h.70m-.6 2.6h.70m-.3 .6h.70m4-2.2h.70m.1-.6h.70m1.2-2h.70m.6 1.2h.70m-.4 2.4h.70m-.5-3.7h.70m.4 .7h.70m1.6-.2h.70m4.9 1.5h.70m.7 2.6h.70m.6-3h.70m.6 1.3h.70m9.8-.5h.70m11.5-3h.70m-178.4 8.2h.70m0 1.3h.70m.4-2.9h.70m1.8 0h.70m-.1 1.9h.70m-.2-1.7h.70m.3 4.8h.70m.4-1.7h.70m-.5-.5h.70m-.5 .6h.70m3.8-.9h.70m0 2h.70m-.4-1h.70m-.6-1.9h.70m-.4 .9h.70m1.2-1.9h.70m-.4 1.8h.70m.3-2.6h.70m.9 3.1h.70m-.3-1.9h.70m-.6 1.7h.70m.6-1.8h.70m-.2-1h.70m-.6 1.2h.70m.3 2.3h.70m-.5-2.3h.70m-.4 .1h.70m-.4 1.5h.70m-.5 1.5h.70m-.2-1.1h.70m-.1-.9h.70m.8-1.5h.70m-.4 2.4h.70m-.4-1.4h.70m-.4 2.2h.70m-.6-.5h.70m-.6-2.4h.70m-.4 .8h.70m-.2-1.7h.70m-.6 2.1h.70m-.6 .9h.70m-.5-.6h.70m-.3-1.6h.70m-.4 .5h.70m-.7 1.5h.70m-.3-2.4h.70m-.7 2.3h.70m.1-3.3h.70m0 4h.70m-.5-4h.70m-.4 .8h.70m-.5 .8h.70m-.7 2.7h.70m-.5-1.8h.70m-.5 1.5h.70m-.5-3.2h.70m-.5 2.4h.70m-.5-.9h.70m-.6-2.2h.70m-.6 5.2h.70m.7-2.9h.70m0-2.6h.70m-.7 3.3h.70m-.5-.3h.70m-.2 2.1h.70m0-2.2h.70m-.4-2.4h.70m-.7 2.4h.70m-.5 .9h.70m-.4-.6h.70m-.5 1.2h.70m-.7 .5h.70m-.5-2.8h.70m-.3 1h.70m1.1 1.4h.70m-.6-3.3h.70m-.4 3.4h.70m-.3-3.3h.70m-.4 .9h.70m.5 1.2h.70m-.6-.6h.70m-.6 3h.70m.2-.3h.70m-.5-1.1h.70m-.5 .9h.70m.7-.5h.70m-.6 .4h.70m1.2-.8h.70m-.4 1.1h.70m.8 0h.70m.6 .1h.70m37.1 .3h.70m1.3 0h.70m3.5-1h.70m-.5-.9h.70m-.2 1.3h.70m-.4-.9h.70m1.8-.8h.70m-.4-.6h.70m-.6-.3h.70m.2 1.2h.70m.1-.8h.70m.5 .5h.70m-.1-.4h.70m-.3-.9h.70m0-.4h.70m.8 .8h.70m-.7 .2h.70m-.5-1.9h.70m-.5 .5h.70m-.4-1.5h.70m-.6 2.1h.70m-.4-1h.70m-.5 3.6h.70m.1-1.5h.70m-.2-2h.70m.3-1.2h.70m2.5 5.7h.70m0-3.3h.70m-.6-1.8h.70m-.7 4.2h.70m-.5-4.7h.70m.8 2.7h.70m.2 .9h.70m.2 1.6h.70m-.6-4.5h.70m.6 2h.70m-.3-.2h.70m.9 2.7h.70m-.6-4.6h.70m.2 .5h.70m-.6 1.8h.70m-.2-.3h.70m-.3 2h.70m-.6-3.8h.70m.6 5h.70m-.2-2.6h.70m.6 1.8h.70m-.1-4.5h.70m-.6 3.5h.70m-.4-3.7h.70m0 0h.70m.8 3.4h.70m-.2-.1h.70m-.5 .2h.70m-.1-1.3h.70m1.8 1.6h.70m-.4-1.8h.70m1.2-1.5h.70m4.5 3h.70m-.2 .7h.70m5.6-3.3h.70m-.2 .1h.70m-.6 1h.70m2.4-.2h.70m.1-1.9h.70m2.1 1.5h.70m5 2.4h.70m2.8-1.2h.70m8.8 .6h.70m8 .1h.70m-178.7 7.4h.70m-.3-3.8h.70m-.5-1h.70m.9 5.2h.70m2.4-4.6h.70m-.1 .9h.70m-.6 4.1h.70m0-1.7h.70m.6-2.9h.70m.2 4h.70m1.4-.3h.70m0-4h.70m-.7 3.8h.70m.2-1.9h.70m-.6 2.9h.70m.9-3.2h.70m-.3 1h.70m-.7 .5h.70m-.5-.4h.70m.1-1.5h.70m1.5 2.8h.70m.3-3h.70m1.1 3.3h.70m-.3-3.3h.70m-.5 1.5h.70m.2 .3h.70m-.6-3.2h.70m-.4 5h.70m-.2-1.9h.70m-.3-3.3h.70m1.6-.3h.70m-.7 .5h.70m.1 4.5h.70m-.4-4.8h.70m.2 4.1h.70m-.2-2.1h.70m-.6-1.7h.70m.7 4.1h.70m-.6-4.2h.70m-.5 1.6h.70m-.5 3.7h.70m.1-3.1h.70m.2-1.4h.70m-.2 2.9h.70m1.7 0h.70m-.7 .7h.70m-.5-.1h.70m-.1-1.8h.70m-.6 .9h.70m.6 1h.70m-.5-4.9h.70m.3 3.4h.70m-.3-3h.70m-.3 4.7h.70m.1-.1h.70m-.6-2.6h.70m.2-1.5h.70m-.6 2.5h.70m-.4 .6h.70m-.4 1.3h.70m-.6-2.8h.70m-.4 1.8h.70m.5-2.7h.70m-.5 1h.70m-.1 .1h.70m-.6 2.5h.70m0 .1h.70m-.6-2.5h.70m-.3-.6h.70m-.5 1.9h.70m-.6 .6h.70m-.4-1.6h.70m-.2 .3h.70m-.5 .4h.70m-.1 1.9h.70m-.6-5.2h.70m-.3 1.3h.70m.4-.2h.70m-.5 3.9h.70m0-1.8h.70m-.1 .1h.70m-.5-2.2h.70m-.2-.9h.70m-.1 4.4h.70m-.6-3.7h.70m-.4 1.3h.70m-.5 3h.70m-.3-.4h.70m-.4-.5h.70m-.5-2.4h.70m-.3 .1h.70m.5 3.4h.70m-.6-1.9h.70m-.5 1.2h.70m-.4-1.5h.70m-.3 1.9h.70m-.2-1.2h.70m0 1.4h.70m1.1-2.3h.70m1.5 2h.70m-.6-1.7h.70m-.3 .6h.70m-.6 .2h.70m-.7 1.1h.70m-.1-.3h.70m.4-.5h.70m-.6-.4h.70m-.5 .8h.70m1.4 .1h.70m-.2-.3h.70m.8-.4h.70m.3 .2h.70m-.2-.5h.70m0 .7h.70m-.6-.5h.70m.5-.5h.70m-.6-.4h.70m.7 .9h.70m-.2 1.2h.70m1-2.4h.70m1.7 .9h.70m.1-.5h.70m0 .6h.70m-.1-1.9h.70m1.4 3.1h.70m.5-4.5h.70m-.7 3.2h.70m.3-.8h.70m-.2 1.8h.70m-.5-3.8h.70m-.5 1.6h.70m-.4-1.5h.70m-.2-.1h.70m.7 1.3h.70m-.6-1.3h.70m-.5 1.5h.70m-.2 .9h.70m-.2-3.6h.70m-.5 4.4h.70m1-.2h.70m.4-.4h.70m0-4h.70m-.5 5.7h.70m0-3.6h.70m-.7 .3h.70m-.6-1.6h.70m-.3-.2h.70m-.6 4.6h.70m-.6-2.9h.70m-.7 0h.70m-.6 1.4h.70m-.3-3.1h.70m-.2 3.7h.70m.5-3.4h.70m-.2-.7h.70m-.1 1.1h.70m-.5-1.1h.70m.8 2.2h.70m-.4 2.2h.70m-.2-3.4h.70m-.3 1h.70m-.6 .8h.70m-.3 2.6h.70m-.6-5h.70m-.5 1.6h.70m-.5 1.8h.70m-.4-3.9h.70m-.1 5.1h.70m-.5-5.1h.70m-.7 1.5h.70m-.3-.3h.70m-.6-.6h.70m.7 1.4h.70m-.6 2.2h.70m-.6-.1h.70m-.3-3.9h.70m1.1 1.4h.70m-.2 3h.70m0 .2h.70m-.1-3.4h.70m-.6 .1h.70m-.6 1.7h.70m-.4 1.3h.70m-.1-3.5h.70m-.7 .7h.70m-.4 1.5h.70m-.3-.5h.70m3.2-2.3h.70m-.7 3.3h.70m0 .8h.70m-.5-3.2h.70m-.7 4.1h.70m-.4-1.1h.70m.7-1.7h.70m1.7 2.9h.70m.1-5.2h.70m-.6 .3h.70m-.5-.6h.70m.8 2.2h.70m.2 2.8h.70m.1-2h.70m1.4 1.9h.70m1.8-1.8h.70m.5 1.7h.70m.1-1.5h.70m-.7 0h.70m.4-.1h.70m.8-3.3h.70m-.5 4h.70m.9-3.8h.70m2.4 2.9h.70m1.6 1.1h.70m-140.8 6.4h.70m-.1-2.1h.70m.6 3.2h.70m-.2-.4h.70m-.1-1.2h.70m1.7 .4h.70m2.4-4.6h.70m-.3 4.8h.70m.8-.1h.70m.8-2.2h.70m-.2-.7h.70m0 2.1h.70m-.4-.9h.70m1 .5h.70m-.1-2.4h.70m2 1.8h.70m-.5-1h.70m-.4 3.2h.70m-.5-1.4h.70m-.2-2.4h.70m.7 4.5h.70m-.2-4.4h.70m-.6 2.2h.70m-.5 .8h.70m1.7-.8h.70m.7 1.4h.70m.2-1h.70m-.6 1h.70m-.5-.5h.70m.7-1.6h.70m-.1 1.8h.70m-.5-2.9h.70m-.1-1.6h.70m0 .6h.70m-.6 1.4h.70m-.2 2.3h.70m-.7 .3h.70m-.6 .9h.70m.5-.2h.70m-.2-.9h.70m.4-3.6h.70m-.7 1.8h.70m-.3-1.8h.70m-.6-1h.70m-.5 3.8h.70m.3-.5h.70m.4-1.9h.70m-.2 .1h.70m-.4 3.2h.70m-.3-1.3h.70m-.7 2h.70m.7-4.1h.70m-.6-.2h.70m1 1.7h.70m-.7 .4h.70m0-2.2h.70m-.7 4.6h.70m.3-3.8h.70m-.5-1.5h.70m-.5 4.6h.70m-.6-1.9h.70m-.2-.3h.70m-.4 2h.70m-.2-.5h.70m-.6-2.8h.70m-.6 2.5h.70m-.4-3.4h.70m.1 .7h.70m-.7 3.7h.70m-.6-1.2h.70m-.6-1.5h.70m-.7 3.3h.70m-.5-.6h.70m-.2-.1h.70m.4-1.4h.70m-.6 .3h.70m-.2 1.2h.70m-.2 1h.70m-.3-5.7h.70m-.4 .5h.70m-.6 1.4h.70m0-.7h.70m-.7 3.8h.70m-.2-3.6h.70m-.6 .2h.70m-.5 3.8h.70m-.6-5.4h.70m-.2 5.3h.70m-.3-.9h.70m-.1-3.9h.70m.4 4.1h.70m-.1-4.4h.70m.5 1.4h.70m-.1-.9h.70m-.6-.9h.70m-.7 1h.70m-.4-.8h.70m-.1 3.3h.70m.3 .3h.70m0-.4h.70m0-.2h.70m-.7 .8h.70m-.3 .8h.70m-.5-1.6h.70m-.3-2.6h.70m-.1 3.9h.70m0-.3h.70m-.6-2.3h.70m-.3 2.3h.70m.4-.2h.70m-.6-2.8h.70m-.5 2.6h.70m-.5-2h.70m-.6 1.4h.70m-.6-.6h.70m.1 2.7h.70m-.6-1.6h.70m-.5-1h.70m-.2-1.3h.70m0 .3h.70m0-1.3h.70m-.4 2.6h.70m-.6 1.4h.70m-.2 1.2h.70m-.6-3.4h.70m-.1-1.9h.70m-.6 2.7h.70m-.6 .4h.70m-.1-2.3h.70m-.5-.8h.70m-.7 5.1h.70m.3-5.4h.70m-.6 5.1h.70m-.6-.4h.70m-.3 .3h.70m.5-5h.70m-.1 .1h.70m-.6 3.2h.70m-.6-1.6h.70m-.6-.4h.70m.6 .4h.70m-.3 3.4h.70m-.3-.6h.70m-.1-2.1h.70m-.5 2.2h.70m-.5-3.4h.70m.1 2.1h.70m-.2-1.2h.70m.1 1.8h.70m-.4-.6h.70m.1-.6h.70m.1 1.2h.70m-.6-2.4h.70m0 1.3h.70m-.7 2.5h.70m-.6-3.8h.70m-.6 .9h.70m.1-1.4h.70m-.3 .9h.70m-.4-1.4h.70m.5 4.2h.70m-.6-2.5h.70m-.5-1.3h.70m-.7 3.3h.70m1.6-1.2h.70m-.5-.9h.70m.2-1.6h.70m-.6 .3h.70m-.5 .4h.70m.7 1.3h.70m-.5 2.6h.70m0-4.6h.70m-.5 1.1h.70m-.6 3.9h.70m-.3-1.3h.70m0 1.1h.70m-.5-5.3h.70m-.6 4.5h.70m-.1-2.5h.70m0-1.6h.70m0 1h.70m.4 1.1h.70m.4 3.2h.70m.8-.1h.70m.1-2.2h.70m-.4-2.3h.70m.1 2.3h.70m1.5-2.7h.70m-.6 4.9h.70m-.5-4.1h.70m0 4.2h.70m.3-.3h.70m-.1-3.8h.70m-.4-.7h.70m.1 3h.70m2.2 .2h.70m-.3 1.2h.70m-.6-2.3h.70m3.1-2.4h.70m.5-.4h.70m2.9 2.5h.70m.9 1h.70m.2-1.1h.70m2.8 1.6h.70m3.1-1.2h.70m0 .7h.70m.3-.1h.70m.5-1.3h.70m2.6-2h.70m-.1 .9h.70m3.9 3.5h.70m1.2 .9h.70m3.5-4.4h.70m-.3 4.6h.70m0-3h.70m6-1.4h.70m.9 1h.70m1.6-1.1h.70m2.9-.7h.70m1.3-.6h.70m1 4.5h.70m3.4-3.6h.70m-164.2 11h.70m0-1.2h.70m2.2-2h.70m-.5 3.1h.70m1-2.3h.70m.3 .1h.70m.3-1h.70m.2-.1h.70m-.5 2.3h.70m-.1-2.4h.70m1.2 .1h.70m.8-.4h.70m.5 .8h.70m.5-.3h.70m2.3-1.6h.70m0 1.8h.70m-.5 1.1h.70m.3-1.1h.70m-.3 2.4h.70m-.4-.8h.70m.8 .8h.70m-.4-.9h.70m1-1.1h.70m.3 1.5h.70m.8-.8h.70m.1-.2h.70m2.2 1.5h.70m-.5-2.9h.70m-.7 2.1h.70m-.3-4.3h.70m-.5 1.4h.70m.1-1.2h.70m-.1 1.9h.70m-.3 .6h.70m-.6-1.6h.70m-.6 3.1h.70m1.1 .9h.70m-.5-5.1h.70m.3 2.2h.70m.3 3h.70m.3-2.4h.70m.4-.1h.70m-.5-2.4h.70m.7 2.2h.70m-.6-.3h.70m-.1 3.1h.70m-.1-.4h.70m.3-4h.70m-.7 2.9h.70m-.5-1.7h.70m-.4-.7h.70m.1 3.2h.70m.1-4.3h.70m-.3 2.6h.70m-.5-1h.70m.2 .1h.70m.5 2.7h.70m-.1-3.6h.70m-.6 .4h.70m.3-1.1h.70m.1 3.3h.70m0-.4h.70m-.6-1.9h.70m-.6 2.2h.70m-.6-3.5h.70m0 2h.70m.3-1.9h.70m-.6 4.6h.70m-.5 .6h.70m-.5-2.6h.70m-.6 2.6h.70m.3 .4h.70m.9-2.9h.70m.1 2.2h.70m1.5-4.7h.70m-.2 2.9h.70m-.1-1.7h.70m-.4-.2h.70m1 .6h.70m-.7 1.5h.70m0 1.2h.70m-.4-.5h.70m-.6-.6h.70m0-1.8h.70m-.6-1.3h.70m-.5-.4h.70m-.4 0h.70m-.5 4.7h.70m-.3-1.5h.70m-.5-.8h.70m-.5-.1h.70m-.6-1.5h.70m1.9 4.3h.70m-.2-2.4h.70m0-1.7h.70m-.4 4.4h.70m-.3-5.2h.70m-.5-.4h.70m-.1 2.5h.70m.2 1.9h.70m.1-2h.70m-.1 1h.70m-.1-2.3h.70m-.5 .6h.70m.4 3.8h.70m-.6-2.5h.70m-.4 0h.70m.1 .2h.70m.1-1.7h.70m2 3.3h.70m-.5-3.5h.70m-.2 3.5h.70m.1 1h.70m.5-4.8h.70m-.3 3.1h.70m0 .8h.70m.9 .3h.70m-.6-1.1h.70m-.7 1.3h.70m-.6-.9h.70m2-3.6h.70m-.6 .5h.70m.2 .7h.70m-.1 1.3h.70m-.4-2.6h.70m-.2 5.1h.70m.3-5.5h.70m-.7 1h.70m2.2 0h.70m.4 3.8h.70m1 .3h.70m.5-.8h.70m2.4-3.7h.70m2 1.2h.70m.2 2.6h.70m4.9-4.1h.70m1.4 3.8h.70m.7 0h.70m.3-4.5h.70m1.1 0h.70m3.1 .5h.70m3 2.5h.70m8.2 .8h.70m2.4 1.5h.70m6.5 .2h.70m7.1-3.5h.70m22.1 .5h.70m-170.5 6.5h.70m-.3 1.9h.70m-.2-2.7h.70m-.6-.2h.70m.2 2.6h.70m-.5-.9h.70m2.1 .8h.70m.5 .5h.70m0-1.2h.70m4.3-3.1h.70m1.2 0h.70m-.2 2.1h.70m.1 2.6h.70m-.3-.4h.70m-.3-2h.70m-.2-1.8h.70m-.2 .1h.70m0 3.3h.70m.3-4.3h.70m-.7 1.7h.70m.2-.1h.70m.7 2.6h.70m-.2-3h.70m.4-.3h.70m-.5 .6h.70m-.4 2.6h.70m3.6-3.1h.70m-.4 .8h.70m.3 3.7h.70m1.8 .1h.70m-.6-4.1h.70m1.2 1.6h.70m.1 .3h.70m0-2.1h.70m.3-.4h.70m-.2 1.1h.70m-.3 3.5h.70m-.5-5.6h.70m1.1 5.7h.70m-.4-1.9h.70m-.2-3.9h.70m-.5 .3h.70m.1 1.4h.70m-.6-1.6h.70m-.3 .7h.70m-.6 2.5h.70m2.1 .9h.70m.2 .5h.70m-.7 .8h.70m-.4 .2h.70m.2-4.4h.70m-.2 1.3h.70m-.3 2h.70m-.2-1.4h.70m-.2 .7h.70m-.4 .1h.70m-.6-3.5h.70m.5 2.2h.70m-.7 .8h.70m.5 1.3h.70m0 .3h.70m.5-2.5h.70m-.5-1.7h.70m-.2 4.5h.70m-.3-3.8h.70m-.4 3.2h.70m-.3-.6h.70m-.4-3.5h.70m-.7 1h.70m-.4 3.2h.70m.1-3.7h.70m-.1-1.3h.70m2.2 0h.70m-.6 2.8h.70m.8 2h.70m-.4-1.2h.70m1.8-3.1h.70m-.3-.2h.70m-.6 1h.70m0 .1h.70m-.4-.1h.70m-.2-1h.70m-.4 0h.70m-.3 2.2h.70m1.4 1.3h.70m.2 1.7h.70m2.1-.7h.70m.5-2.2h.70m-.5 2.2h.70m-.5-1.1h.70m-.3-3.2h.70m.9-.4h.70m-.4 3h.70m.1 2.3h.70m-.2-2.1h.70m-.4-2.7h.70m-.7 2.5h.70m3.3-1.1h.70m.7 .9h.70m-.4-1.7h.70m-.7 2.6h.70m-.7 .8h.70m1.8-3.2h.70m2.8 2.1h.70m-.5-1.3h.70m1.2-1.8h.70m-.5 1.6h.70m.3 .7h.70m-.3 2.6h.70m3.4-1.7h.70m.7-.1h.70m.1-1.6h.70m.4 .9h.70m3.4 1.3h.70m5.3-3.1h.70m4.8 3.1h.70m9.3 .4h.70m6.3 1.3h.70m4.7-1.4h.70m1.6-3h.70m-.1 3.8h.70m8.4-.1h.70m-160.7 1.6h.70m-.4 .1h.70m.4 2.1h.70m4.9-2.7h.70m6 3.2h.70m1.1 .3h.70m-.3-.4h.70m.1 1.2h.70m.2-4.5h.70m1.4 5.7h.70m-.1-1.6h.70m4.7-1.6h.70m-.6 1.7h.70m.5-.4h.70m-.7 .3h.70m-.1-.8h.70m-.7 1.3h.70m-.2-3.9h.70m0 1.6h.70m-.5-.5h.70m-.7 .2h.70m1.5 3h.70m-.5-.7h.70m2.9-2.4h.70m-.4 2.5h.70m-.6-1.4h.70m-.3-2.1h.70m.2 .4h.70m.5 4h.70m-.3-.5h.70m.1 .5h.70m3.1-2.5h.70m-.5 .3h.70m-.7 1h.70m3-1.4h.70m-.2 .7h.70m-.4-2.2h.70m-.4-1.1h.70m2.5 5.1h.70m1.8-1.4h.70m.8 1.5h.70m.2-3.2h.70m.1-1.3h.70m-.4 .1h.70m-.1-.8h.70m.3 3h.70m-.7 1.5h.70m-.5-.3h.70m-.2-4.1h.70m-.3 2.1h.70m.2-.4h.70m.9 1.3h.70m.3 1.4h.70m1.3-2.8h.70m-.7 1.4h.70m.4-1.2h.70m.9-.2h.70m-.6 .4h.70m1.1-.9h.70m.3 .1h.70m.1 1.4h.70m-.3-.9h.70m-.7 .3h.70m-.7 3.2h.70m-.6-2.4h.70m-.1 2.6h.70m1.4-5.2h.70m1 5.2h.70m-.5-.8h.70m1.5 .4h.70m-.2-1.4h.70m.1-1.8h.70m3.1 1.5h.70m-.2 2.2h.70m.3-.5h.70m-.4-2.4h.70m.7-2h.70m-.7 .6h.70m-.4 2.2h.70m.3 1.6h.70m2.1-4.2h.70m1.7-.6h.70m.7 1.8h.70m-.7 2.4h.70m.7-1h.70m0-3.4h.70m.2 1.3h.70m-.5-1.3h.70m0 .5h.70m2.5 4.8h.70m3.9-3.9h.70m.2-.3h.70m8.5 .9h.70m4.5 2.8h.70m14.5-2.4h.70m6.7-1.1h.70m1.3 0h.70m2.8-.3h.70m-150.6 9.2h.70m-.4-3.9h.70m1.2 4.7h.70m8.3-1.1h.70m.4-.4h.70m.8-2.4h.70m.8 3.4h.70m2-1h.70m-.5-3.5h.70m1.3 .3h.70m5.2 3.9h.70m1 .3h.70m-.6 .3h.70m1-2.1h.70m-.2 2.8h.70m.9-5.1h.70m-.5 2.2h.70m-.4 .2h.70m-.7 2.5h.70m3.7-2.2h.70m2.3-1.6h.70m-.2-1.2h.70m-.4 2.9h.70m.8-.9h.70m.1 3h.70m.1-.3h.70m5.6-1h.70m.5 .2h.70m-.2-1.2h.70m.9-2.6h.70m-.7 2.9h.70m.3-.1h.70m-.3 .7h.70m5.7 .4h.70m-.4-.6h.70m1.6-3.8h.70m1.2 2.6h.70m1-1.7h.70m4 2.2h.70m1.5-2h.70m2 2.7h.70m-.3-.4h.70m-.5-1.8h.70m.3 1.6h.70m2.5 1.4h.70m1.5-1.5h.70m-.4 1.1h.70m-.3 .5h.70m.8-4h.70m.6 3.9h.70m1.3-2.4h.70m-.7 .7h.70m.3-.7h.70m.5-1.3h.70m.9 1.7h.70m2.6 0h.70m-.7 2.4h.70m-.5-1h.70m-.1 .7h.70m.8-2.5h.70m.7-1.2h.70m2.8-1.1h.70m-.6 4.7h.70m.2-3.7h.70m3 1.5h.70m4.4 2h.70m.2 .9h.70m1.5-1h.70m-.3 .1h.70m.1-1.3h.70m1.6 1.8h.70m-115.9 3.5h.70m1.3-.3h.70m4.8 1h.70m.1-.6h.70m1.5 .7h.70m3.1-2.6h.70m4.5 .3h.70m-.7 3.2h.70m-.4-.7h.70m8.3-1.8h.70m4.8-.6h.70m-.5 1.6h.70m.4-1.4h.70m6.1-.6h.70m-.4 1h.70m3.9-1.5h.70m.5 1.2h.70m0 1.7h.70m.7-1h.70m1.6-.4h.70m-.5 .6h.70m.9 0h.70m-.3 2.2h.70m4.8-3.1h.70m.3-1h.70m.4 4.5h.70m2.3-4.7h.70m4.1 4h.70m8-3.7h.70m1.4 2h.70m.3 1.6h.70m1.3 .5h.70m2.7-.7h.70m-.1-3.3h.70m1.4-.3h.70m-.5 2h.70m2.4-2h.70m-.1 2.3h.70m2.8 1.9h.70m2.5-.7h.70m20.5 1.2h.70m35.8-3.1h.70" stroke="#262626" stroke-width="0.68" fill="none"/></defs>
<line x1="140.36" y1="28.1" x2="140.36" y2="443.9" stroke="#c4c4c4" stroke-width="1.4"/>
<line x1="175.78" y1="28.1" x2="175.78" y2="443.9" stroke="#c4c4c4" stroke-width="1.4"/>
<line x1="211.19" y1="28.1" x2="211.19" y2="443.9" stroke="#c4c4c4" stroke-width="1.4"/>
<line x1="246.61" y1="28.1" x2="246.61" y2="443.9" stroke="#c4c4c4" stroke-width="1.4"/>
<line x1="282.03" y1="28.1" x2="282.03" y2="443.9" stroke="#c4c4c4" stroke-width="1.4"/>
<line x1="317.44" y1="28.1" x2="317.44" y2="443.9" stroke="#c4c4c4" stroke-width="1.4"/>
<line x1="352.86" y1="28.1" x2="352.86" y2="443.9" stroke="#c4c4c4" stroke-width="1.4"/>
<polygon points="122.65,28.1 356.40,28.1 356.40,158.8 122.65,179.6" fill="url(#hr)"/>
<polygon points="122.65,179.6 356.40,158.8 356.40,305.6 122.65,305.6" fill="url(#hb)"/>
<line x1="122.65" y1="179.6" x2="356.40" y2="158.8" stroke="#222" stroke-width="0.9" stroke-dasharray="4 9" stroke-dashoffset="7"/>
<use href="#dots" x="0.00" y="0"/>
<use href="#cont" x="0.00" y="0"/>
<line x1="374.11" y1="28.1" x2="374.11" y2="443.9" stroke="#c4c4c4" stroke-width="1.4"/>
<line x1="409.52" y1="28.1" x2="409.52" y2="443.9" stroke="#c4c4c4" stroke-width="1.4"/>
<line x1="444.94" y1="28.1" x2="444.94" y2="443.9" stroke="#c4c4c4" stroke-width="1.4"/>
<line x1="480.36" y1="28.1" x2="480.36" y2="443.9" stroke="#c4c4c4" stroke-width="1.4"/>
<line x1="515.77" y1="28.1" x2="515.77" y2="443.9" stroke="#c4c4c4" stroke-width="1.4"/>
<line x1="551.19" y1="28.1" x2="551.19" y2="443.9" stroke="#c4c4c4" stroke-width="1.4"/>
<line x1="586.61" y1="28.1" x2="586.61" y2="443.9" stroke="#c4c4c4" stroke-width="1.4"/>
<polygon points="356.40,28.1 590.15,28.1 590.15,158.8 356.40,179.6" fill="url(#hr)"/>
<polygon points="356.40,179.6 590.15,158.8 590.15,305.6 356.40,305.6" fill="url(#hb)"/>
<line x1="356.40" y1="179.6" x2="590.15" y2="158.8" stroke="#222" stroke-width="0.9" stroke-dasharray="4 9" stroke-dashoffset="7"/>
<use href="#dots" x="233.75" y="0"/>
<use href="#cont" x="233.75" y="0"/>
<line x1="607.86" y1="28.1" x2="607.86" y2="443.9" stroke="#c4c4c4" stroke-width="1.4"/>
<line x1="643.27" y1="28.1" x2="643.27" y2="443.9" stroke="#c4c4c4" stroke-width="1.4"/>
<line x1="678.69" y1="28.1" x2="678.69" y2="443.9" stroke="#c4c4c4" stroke-width="1.4"/>
<line x1="714.11" y1="28.1" x2="714.11" y2="443.9" stroke="#c4c4c4" stroke-width="1.4"/>
<line x1="749.52" y1="28.1" x2="749.52" y2="443.9" stroke="#c4c4c4" stroke-width="1.4"/>
<line x1="784.94" y1="28.1" x2="784.94" y2="443.9" stroke="#c4c4c4" stroke-width="1.4"/>
<line x1="820.36" y1="28.1" x2="820.36" y2="443.9" stroke="#c4c4c4" stroke-width="1.4"/>
<polygon points="590.15,28.1 823.90,28.1 823.90,158.8 590.15,179.6" fill="url(#hr)"/>
<polygon points="590.15,179.6 823.90,158.8 823.90,305.6 590.15,305.6" fill="url(#hb)"/>
<line x1="590.15" y1="179.6" x2="823.90" y2="158.8" stroke="#222" stroke-width="0.9" stroke-dasharray="4 9" stroke-dashoffset="7"/>
<use href="#dots" x="467.50" y="0"/>
<use href="#cont" x="467.50" y="0"/>
<path d="M310.5 48.1h5v5h-5zM340.6 59.1h5v5h-5zM321.9 71.5h5v5h-5zM323.8 79.8h5v5h-5zM315.2 80.1h5v5h-5zM316.0 84.5h5v5h-5zM343.9 86.1h5v5h-5zM251.8 87.9h5v5h-5zM298.8 90.8h5v5h-5zM308.9 90.8h5v5h-5zM280.0 93.6h5v5h-5zM287.0 98.3h5v5h-5zM300.8 97.8h5v5h-5zM280.8 101.4h5v5h-5zM278.4 103.0h5v5h-5zM295.6 101.7h5v5h-5zM321.5 98.6h5v5h-5zM316.8 100.9h5v5h-5zM312.9 107.2h5v5h-5zM253.3 109.1h5v5h-5zM325.4 109.5h5v5h-5zM330.9 108.0h5v5h-5zM262.7 112.7h5v5h-5zM272.9 111.1h5v5h-5zM279.2 111.9h5v5h-5zM290.1 110.3h5v5h-5zM300.3 111.9h5v5h-5zM335.6 114.2h5v5h-5zM323.0 114.2h5v5h-5zM333.2 123.3h5v5h-5zM334.0 131.9h5v5h-5zM238.5 133.8h5v5h-5zM250.7 137.3h5v5h-5zM240.0 143.2h5v5h-5zM262.7 134.6h5v5h-5zM265.1 133.0h5v5h-5zM269.8 123.6h5v5h-5zM272.1 122.1h5v5h-5zM281.5 122.1h5v5h-5zM262.7 148.7h5v5h-5zM264.3 152.6h5v5h-5zM258.8 156.2h5v5h-5zM248.6 159.7h5v5h-5zM264.6 161.2h5v5h-5zM243.2 167.5h5v5h-5zM243.9 171.4h5v5h-5zM253.3 168.3h5v5h-5zM252.6 171.4h5v5h-5zM265.1 172.5h5v5h-5zM262.7 175.3h5v5h-5zM320.7 157.0h5v5h-5zM321.5 165.1h5v5h-5zM314.4 166.7h5v5h-5zM287.8 111.4h5v5h-5zM295.4 115.6h5v5h-5zM298.8 115.6h5v5h-5zM289.5 119.0h5v5h-5zM304.7 118.6h5v5h-5zM313.1 122.4h5v5h-5zM316.5 122.0h5v5h-5zM280.2 125.3h5v5h-5zM294.5 122.8h5v5h-5zM293.7 126.2h5v5h-5zM298.8 125.3h5v5h-5zM296.2 129.5h5v5h-5zM299.6 129.5h5v5h-5zM296.2 132.9h5v5h-5zM299.6 133.8h5v5h-5zM302.1 127.0h5v5h-5zM291.2 128.7h5v5h-5zM288.6 131.2h5v5h-5zM285.3 132.9h5v5h-5zM264.2 126.2h5v5h-5zM275.2 133.8h5v5h-5zM279.8 131.2h5v5h-5zM278.5 136.3h5v5h-5zM273.5 138.0h5v5h-5zM292.0 137.1h5v5h-5zM297.1 138.0h5v5h-5zM310.6 135.5h5v5h-5zM314.8 131.2h5v5h-5zM316.1 134.6h5v5h-5zM331.7 132.1h5v5h-5zM307.2 128.7h5v5h-5zM291.2 140.1h5v5h-5zM293.3 143.5h5v5h-5zM291.2 146.0h5v5h-5zM296.2 146.8h5v5h-5zM298.8 145.2h5v5h-5zM303.0 144.3h5v5h-5zM307.2 142.6h5v5h-5zM311.4 144.3h5v5h-5zM309.7 146.8h5v5h-5zM304.7 146.8h5v5h-5zM269.7 155.7h5v5h-5zM266.7 158.6h5v5h-5zM272.6 157.8h5v5h-5zM276.0 159.5h5v5h-5zM276.8 162.9h5v5h-5zM273.5 164.5h5v5h-5zM290.3 154.8h5v5h-5zM294.5 153.6h5v5h-5zM299.6 153.6h5v5h-5zM302.1 156.1h5v5h-5zM287.8 157.8h5v5h-5zM286.1 160.3h5v5h-5zM295.4 159.5h5v5h-5zM294.5 162.0h5v5h-5zM301.3 159.5h5v5h-5zM308.5 156.1h5v5h-5zM308.9 159.5h5v5h-5zM308.9 162.9h5v5h-5zM309.3 165.4h5v5h-5zM281.9 166.2h5v5h-5zM282.7 169.6h5v5h-5zM279.4 167.9h5v5h-5zM291.6 167.1h5v5h-5zM288.6 169.6h5v5h-5zM284.4 173.0h5v5h-5zM295.4 169.6h5v5h-5zM299.6 170.5h5v5h-5zM304.7 170.5h5v5h-5zM305.5 173.0h5v5h-5zM301.3 173.8h5v5h-5zM316.5 150.6h5v5h-5zM233.8 181.6h5v5h-5zM284.7 179.2h5v5h-5zM281.5 183.2h5v5h-5zM296.4 172.2h5v5h-5zM299.5 175.3h5v5h-5zM313.6 175.3h5v5h-5zM310.5 176.1h5v5h-5zM293.3 183.2h5v5h-5zM299.5 186.6h5v5h-5zM305.8 183.2h5v5h-5zM312.9 186.3h5v5h-5zM270.6 192.2h5v5h-5zM280.8 191.0h5v5h-5zM281.5 196.5h5v5h-5zM289.4 191.8h5v5h-5zM293.3 191.0h5v5h-5zM298.8 194.9h5v5h-5zM298.3 200.4h5v5h-5zM285.4 200.4h5v5h-5zM337.1 194.4h5v5h-5zM238.5 194.9h5v5h-5zM259.6 195.4h5v5h-5zM256.5 198.8h5v5h-5zM265.1 200.1h5v5h-5zM267.4 201.2h5v5h-5zM253.3 203.8h5v5h-5zM265.9 205.1h5v5h-5zM271.8 204.6h5v5h-5zM258.8 206.7h5v5h-5zM287.8 208.5h5v5h-5zM289.4 212.6h5v5h-5zM313.3 207.4h5v5h-5zM308.2 212.9h5v5h-5zM312.1 213.2h5v5h-5zM308.6 214.8h5v5h-5zM269.8 214.0h5v5h-5zM278.9 218.4h5v5h-5zM295.6 222.3h5v5h-5zM233.0 215.3h5v5h-5zM229.4 216.8h5v5h-5zM242.4 214.5h5v5h-5zM244.7 216.8h5v5h-5zM236.4 219.2h5v5h-5zM247.9 225.0h5v5h-5zM255.7 223.9h5v5h-5zM314.1 230.6h5v5h-5zM319.9 230.9h5v5h-5zM318.8 236.9h5v5h-5zM238.5 241.9h5v5h-5zM242.4 243.5h5v5h-5zM170.0 194.9h5v5h-5zM189.9 192.6h5v5h-5zM215.9 198.0h5v5h-5zM205.7 209.5h5v5h-5zM192.2 213.4h5v5h-5zM218.5 213.7h5v5h-5zM165.0 219.2h5v5h-5zM178.6 222.0h5v5h-5zM182.0 225.8h5v5h-5zM203.6 230.9h5v5h-5zM172.6 240.6h5v5h-5zM179.0 240.3h5v5h-5zM202.1 240.0h5v5h-5zM227.9 241.9h5v5h-5zM188.0 249.9h5v5h-5zM165.6 252.2h5v5h-5zM178.6 256.9h5v5h-5zM186.9 258.0h5v5h-5zM153.5 266.3h5v5h-5zM238.9 253.8h5v5h-5zM213.8 264.0h5v5h-5zM211.9 268.3h5v5h-5zM224.0 280.1h5v5h-5zM218.5 297.2h5v5h-5zM258.3 253.0h5v5h-5zM268.2 253.8h5v5h-5zM275.1 249.4h5v5h-5zM277.1 258.0h5v5h-5zM252.5 262.9h5v5h-5zM307.2 274.9h5v5h-5zM221.3 151.0h5v5h-5zM312.5 95.4h5v5h-5zM294.1 107.8h5v5h-5zM286.2 115.3h5v5h-5zM305.8 113.7h5v5h-5zM303.8 122.4h5v5h-5zM324.6 118.1h5v5h-5zM328.6 124.8h5v5h-5zM262.0 126.0h5v5h-5zM305.8 131.9h5v5h-5zM309.9 130.8h5v5h-5zM317.7 133.0h5v5h-5zM321.5 136.5h5v5h-5zM323.2 140.1h5v5h-5zM306.6 137.9h5v5h-5zM302.0 140.9h5v5h-5zM326.2 146.0h5v5h-5zM278.0 142.7h5v5h-5zM277.9 148.5h5v5h-5zM319.0 151.5h5v5h-5zM247.0 152.9h5v5h-5zM288.9 162.9h5v5h-5zM298.0 165.6h5v5h-5zM291.0 174.1h5v5h-5zM307.8 175.6h5v5h-5zM324.9 174.5h5v5h-5zM321.9 179.0h5v5h-5zM347.8 174.1h5v5h-5zM319.1 182.4h5v5h-5zM303.8 186.6h5v5h-5zM316.8 192.1h5v5h-5zM311.6 195.4h5v5h-5zM289.7 196.9h5v5h-5zM276.4 200.1h5v5h-5zM338.2 198.5h5v5h-5zM324.1 203.5h5v5h-5zM313.6 209.3h5v5h-5zM286.2 211.0h5v5h-5zM298.8 211.7h5v5h-5zM305.0 214.2h5v5h-5zM327.7 212.9h5v5h-5zM269.5 220.0h5v5h-5zM238.1 227.8h5v5h-5zM261.2 236.0h5v5h-5zM229.8 237.5h5v5h-5zM236.6 238.5h5v5h-5zM281.9 240.9h5v5h-5zM262.7 245.5h5v5h-5zM317.9 250.6h5v5h-5zM247.7 262.9h5v5h-5zM277.1 264.0h5v5h-5zM300.2 270.5h5v5h-5zM263.0 275.4h5v5h-5zM226.3 267.6h5v5h-5z" fill="#000"/><circle cx="315.0" cy="97.9" r="1.8" fill="#00f800"/><circle cx="296.6" cy="110.3" r="1.8" fill="#00f800"/><circle cx="288.7" cy="117.8" r="1.8" fill="#00f800"/><circle cx="308.3" cy="116.2" r="1.8" fill="#00f800"/><circle cx="306.3" cy="124.9" r="1.8" fill="#00f800"/><circle cx="327.1" cy="120.6" r="1.8" fill="#00f800"/><circle cx="331.1" cy="127.3" r="1.8" fill="#00f800"/><circle cx="264.5" cy="128.5" r="1.8" fill="#00f800"/><circle cx="308.3" cy="134.4" r="1.8" fill="#00f800"/><circle cx="312.4" cy="133.3" r="1.8" fill="#00f800"/><circle cx="320.2" cy="135.5" r="1.8" fill="#00f800"/><circle cx="324.0" cy="139.0" r="1.8" fill="#00f800"/><circle cx="325.7" cy="142.6" r="1.8" fill="#00f800"/><circle cx="309.1" cy="140.4" r="1.8" fill="#00f800"/><circle cx="304.5" cy="143.4" r="1.8" fill="#00f800"/><circle cx="328.7" cy="148.5" r="1.8" fill="#00f800"/><circle cx="280.5" cy="145.2" r="1.8" fill="#00f800"/><circle cx="280.4" cy="151.0" r="1.8" fill="#00f800"/><circle cx="321.5" cy="154.0" r="1.8" fill="#00f800"/><circle cx="249.5" cy="155.4" r="1.8" fill="#00f800"/><circle cx="291.4" cy="165.4" r="1.8" fill="#00f800"/><circle cx="300.5" cy="168.1" r="1.8" fill="#00f800"/><circle cx="293.5" cy="176.6" r="1.8" fill="#00f800"/><circle cx="310.3" cy="178.1" r="1.8" fill="#00f800"/><circle cx="327.4" cy="177.0" r="1.8" fill="#00f800"/><circle cx="324.4" cy="181.5" r="1.8" fill="#00f800"/><circle cx="350.3" cy="176.6" r="1.8" fill="#00f800"/><circle cx="321.6" cy="184.9" r="1.8" fill="#00f800"/><circle cx="306.3" cy="189.1" r="1.8" fill="#00f800"/><circle cx="319.3" cy="194.6" r="1.8" fill="#00f800"/><circle cx="314.1" cy="197.9" r="1.8" fill="#00f800"/><circle cx="292.2" cy="199.4" r="1.8" fill="#00f800"/><circle cx="278.9" cy="202.6" r="1.8" fill="#00f800"/><circle cx="340.7" cy="201.0" r="1.8" fill="#00f800"/><circle cx="326.6" cy="206.0" r="1.8" fill="#00f800"/><circle cx="316.1" cy="211.8" r="1.8" fill="#00f800"/><circle cx="288.7" cy="213.5" r="1.8" fill="#00f800"/><circle cx="301.3" cy="214.2" r="1.8" fill="#00f800"/><circle cx="307.5" cy="216.7" r="1.8" fill="#00f800"/><circle cx="330.2" cy="215.4" r="1.8" fill="#00f800"/><circle cx="272.0" cy="222.5" r="1.8" fill="#00f800"/><circle cx="240.6" cy="230.3" r="1.8" fill="#00f800"/><circle cx="263.7" cy="238.5" r="1.8" fill="#00f800"/><circle cx="232.3" cy="240.0" r="1.8" fill="#00f800"/><circle cx="239.1" cy="241.0" r="1.8" fill="#00f800"/><circle cx="284.4" cy="243.4" r="1.8" fill="#00f800"/><circle cx="265.2" cy="248.0" r="1.8" fill="#00f800"/><circle cx="320.4" cy="253.1" r="1.8" fill="#00f800"/><circle cx="250.2" cy="265.4" r="1.8" fill="#00f800"/><circle cx="279.6" cy="266.5" r="1.8" fill="#00f800"/><circle cx="302.7" cy="273.0" r="1.8" fill="#00f800"/><circle cx="265.5" cy="277.9" r="1.8" fill="#00f800"/><circle cx="228.8" cy="270.1" r="1.8" fill="#00f800"/>
<path d="M531.7 86.9h5v5h-5zM501.9 91.0h5v5h-5zM511.6 92.9h5v5h-5zM499.6 102.3h5v5h-5zM491.7 109.6h5v5h-5zM487.0 112.8h5v5h-5zM475.3 117.6h5v5h-5zM494.1 118.4h5v5h-5zM490.0 122.3h5v5h-5zM490.5 125.0h5v5h-5zM500.7 123.4h5v5h-5zM503.0 127.3h5v5h-5zM506.9 113.2h5v5h-5zM510.8 113.5h5v5h-5zM512.4 121.8h5v5h-5zM535.1 111.7h5v5h-5zM532.8 115.6h5v5h-5zM529.6 120.7h5v5h-5zM551.6 117.9h5v5h-5zM547.6 126.5h5v5h-5zM521.0 127.3h5v5h-5zM517.1 129.7h5v5h-5zM514.8 132.0h5v5h-5zM520.2 131.2h5v5h-5zM497.5 133.6h5v5h-5zM499.1 137.5h5v5h-5zM508.5 135.1h5v5h-5zM487.3 139.8h5v5h-5zM494.4 141.4h5v5h-5zM490.5 145.3h5v5h-5zM485.0 146.1h5v5h-5zM523.4 142.2h5v5h-5zM570.3 134.7h5v5h-5zM546.1 135.1h5v5h-5zM549.2 137.5h5v5h-5zM544.5 141.4h5v5h-5zM542.9 146.1h5v5h-5zM547.6 146.9h5v5h-5zM478.7 149.2h5v5h-5zM496.0 149.2h5v5h-5zM538.2 149.2h5v5h-5zM501.4 154.2h5v5h-5zM496.0 155.8h5v5h-5zM506.9 154.2h5v5h-5zM507.7 158.2h5v5h-5zM508.2 162.9h5v5h-5zM499.1 159.7h5v5h-5zM499.9 162.9h5v5h-5zM510.8 167.6h5v5h-5zM506.9 171.5h5v5h-5zM475.9 165.7h5v5h-5zM483.1 163.6h5v5h-5zM489.7 164.4h5v5h-5zM492.0 166.8h5v5h-5zM499.1 170.7h5v5h-5zM497.5 175.4h5v5h-5zM472.5 175.7h5v5h-5zM489.4 175.4h5v5h-5zM490.5 179.3h5v5h-5zM483.9 179.8h5v5h-5zM486.6 184.8h5v5h-5zM488.9 187.1h5v5h-5zM500.7 182.4h5v5h-5zM495.2 189.5h5v5h-5zM514.7 182.9h5v5h-5zM507.7 188.7h5v5h-5zM472.5 186.4h5v5h-5zM474.0 190.3h5v5h-5zM477.2 193.4h5v5h-5zM480.3 195.0h5v5h-5zM470.1 199.7h5v5h-5zM473.2 202.0h5v5h-5zM477.9 198.9h5v5h-5zM488.9 196.5h5v5h-5zM499.1 197.3h5v5h-5zM498.3 201.2h5v5h-5zM488.1 204.8h5v5h-5zM506.1 202.8h5v5h-5zM506.1 206.7h5v5h-5zM506.9 209.8h5v5h-5zM500.7 212.2h5v5h-5zM503.0 214.5h5v5h-5zM472.5 215.3h5v5h-5zM532.0 153.5h5v5h-5zM525.7 157.4h5v5h-5zM526.5 162.1h5v5h-5zM518.7 172.6h5v5h-5zM528.8 170.7h5v5h-5zM530.4 167.6h5v5h-5zM541.4 153.5h5v5h-5zM544.5 145.6h5v5h-5zM555.5 162.9h5v5h-5zM550.8 164.4h5v5h-5zM564.9 171.0h5v5h-5zM534.3 184.0h5v5h-5zM535.1 187.1h5v5h-5zM550.0 188.7h5v5h-5zM552.3 195.0h5v5h-5zM524.1 192.3h5v5h-5zM546.9 204.4h5v5h-5zM552.3 215.3h5v5h-5zM516.6 210.9h5v5h-5zM472.1 220.3h5v5h-5zM481.9 224.2h5v5h-5zM484.2 223.8h5v5h-5zM465.4 231.0h5v5h-5zM477.9 237.2h5v5h-5zM473.2 241.5h5v5h-5zM481.5 243.8h5v5h-5zM483.4 248.2h5v5h-5zM487.8 243.8h5v5h-5zM512.9 224.6h5v5h-5zM527.7 233.3h5v5h-5zM545.3 228.6h5v5h-5zM503.8 268.9h5v5h-5zM507.7 267.6h5v5h-5zM488.9 277.8h5v5h-5zM476.7 283.0h5v5h-5zM459.9 152.7h5v5h-5zM454.9 160.5h5v5h-5zM461.9 162.5h5v5h-5zM445.5 172.7h5v5h-5zM443.9 190.3h5v5h-5zM446.3 193.4h5v5h-5zM452.5 189.5h5v5h-5zM454.9 193.4h5v5h-5zM437.3 195.7h5v5h-5zM460.0 198.1h5v5h-5zM458.0 202.8h5v5h-5zM470.5 202.8h5v5h-5zM476.0 202.8h5v5h-5zM446.6 205.1h5v5h-5zM440.8 209.1h5v5h-5zM442.3 211.4h5v5h-5zM427.0 207.8h5v5h-5zM441.6 219.2h5v5h-5zM440.0 220.3h5v5h-5zM445.5 223.5h5v5h-5zM448.6 222.7h5v5h-5zM431.1 226.3h5v5h-5zM438.9 226.9h5v5h-5zM450.2 232.1h5v5h-5zM449.4 236.8h5v5h-5zM419.9 236.8h5v5h-5zM401.1 241.5h5v5h-5zM448.1 243.8h5v5h-5zM432.6 248.8h5v5h-5zM441.1 251.3h5v5h-5zM408.2 254.5h5v5h-5zM447.0 258.2h5v5h-5zM456.1 256.4h5v5h-5zM454.1 260.3h5v5h-5zM441.1 264.7h5v5h-5zM431.4 266.8h5v5h-5zM425.9 270.8h5v5h-5zM459.6 273.3h5v5h-5zM457.2 279.4h5v5h-5zM457.2 287.7h5v5h-5zM467.4 231.6h5v5h-5zM479.9 225.0h5v5h-5zM546.5 95.5h5v5h-5zM528.1 107.7h5v5h-5zM520.2 115.6h5v5h-5zM539.8 113.7h5v5h-5zM537.8 122.3h5v5h-5zM558.6 117.9h5v5h-5zM562.8 124.7h5v5h-5zM496.0 125.8h5v5h-5zM539.8 132.0h5v5h-5zM543.7 130.9h5v5h-5zM551.6 132.8h5v5h-5zM555.5 136.4h5v5h-5zM540.6 137.8h5v5h-5zM535.9 140.9h5v5h-5zM557.4 140.2h5v5h-5zM560.2 145.8h5v5h-5zM511.9 142.9h5v5h-5zM511.9 148.7h5v5h-5zM553.1 151.0h5v5h-5zM481.1 153.0h5v5h-5zM522.9 162.9h5v5h-5zM532.0 165.7h5v5h-5zM524.9 174.1h5v5h-5zM541.8 175.7h5v5h-5zM558.9 174.6h5v5h-5zM555.9 179.0h5v5h-5zM553.1 182.1h5v5h-5zM581.8 173.8h5v5h-5zM537.5 186.7h5v5h-5zM550.8 192.1h5v5h-5zM545.6 195.3h5v5h-5zM523.7 196.8h5v5h-5zM510.4 200.0h5v5h-5zM572.2 198.4h5v5h-5zM558.1 203.6h5v5h-5zM547.6 209.4h5v5h-5zM520.2 210.9h5v5h-5zM532.8 211.7h5v5h-5zM539.0 214.3h5v5h-5zM561.7 213.1h5v5h-5zM503.5 219.7h5v5h-5zM472.5 227.7h5v5h-5zM463.8 237.4h5v5h-5zM470.4 238.1h5v5h-5zM495.2 236.0h5v5h-5zM496.7 245.9h5v5h-5zM515.8 241.2h5v5h-5zM551.9 250.9h5v5h-5zM481.9 262.9h5v5h-5zM511.1 263.9h5v5h-5zM534.0 270.8h5v5h-5zM497.1 275.5h5v5h-5zM460.3 267.3h5v5h-5z" fill="#000"/><circle cx="549.0" cy="98.0" r="1.8" fill="#00f800"/><circle cx="530.6" cy="110.2" r="1.8" fill="#00f800"/><circle cx="522.7" cy="118.1" r="1.8" fill="#00f800"/><circle cx="542.3" cy="116.2" r="1.8" fill="#00f800"/><circle cx="540.3" cy="124.8" r="1.8" fill="#00f800"/><circle cx="561.1" cy="120.4" r="1.8" fill="#00f800"/><circle cx="565.3" cy="127.2" r="1.8" fill="#00f800"/><circle cx="498.5" cy="128.3" r="1.8" fill="#00f800"/><circle cx="542.3" cy="134.5" r="1.8" fill="#00f800"/><circle cx="546.2" cy="133.4" r="1.8" fill="#00f800"/><circle cx="554.1" cy="135.3" r="1.8" fill="#00f800"/><circle cx="558.0" cy="138.9" r="1.8" fill="#00f800"/><circle cx="543.1" cy="140.3" r="1.8" fill="#00f800"/><circle cx="538.4" cy="143.4" r="1.8" fill="#00f800"/><circle cx="559.9" cy="142.7" r="1.8" fill="#00f800"/><circle cx="562.7" cy="148.3" r="1.8" fill="#00f800"/><circle cx="514.4" cy="145.4" r="1.8" fill="#00f800"/><circle cx="514.4" cy="151.2" r="1.8" fill="#00f800"/><circle cx="555.6" cy="153.5" r="1.8" fill="#00f800"/><circle cx="483.6" cy="155.5" r="1.8" fill="#00f800"/><circle cx="525.4" cy="165.4" r="1.8" fill="#00f800"/><circle cx="534.5" cy="168.2" r="1.8" fill="#00f800"/><circle cx="527.4" cy="176.6" r="1.8" fill="#00f800"/><circle cx="544.3" cy="178.2" r="1.8" fill="#00f800"/><circle cx="561.4" cy="177.1" r="1.8" fill="#00f800"/><circle cx="558.4" cy="181.5" r="1.8" fill="#00f800"/><circle cx="555.6" cy="184.6" r="1.8" fill="#00f800"/><circle cx="584.3" cy="176.3" r="1.8" fill="#00f800"/><circle cx="540.0" cy="189.2" r="1.8" fill="#00f800"/><circle cx="553.3" cy="194.6" r="1.8" fill="#00f800"/><circle cx="548.1" cy="197.8" r="1.8" fill="#00f800"/><circle cx="526.2" cy="199.3" r="1.8" fill="#00f800"/><circle cx="512.9" cy="202.5" r="1.8" fill="#00f800"/><circle cx="574.7" cy="200.9" r="1.8" fill="#00f800"/><circle cx="560.6" cy="206.1" r="1.8" fill="#00f800"/><circle cx="550.1" cy="211.9" r="1.8" fill="#00f800"/><circle cx="522.7" cy="213.4" r="1.8" fill="#00f800"/><circle cx="535.3" cy="214.2" r="1.8" fill="#00f800"/><circle cx="541.5" cy="216.8" r="1.8" fill="#00f800"/><circle cx="564.2" cy="215.6" r="1.8" fill="#00f800"/><circle cx="506.0" cy="222.2" r="1.8" fill="#00f800"/><circle cx="475.0" cy="230.2" r="1.8" fill="#00f800"/><circle cx="466.3" cy="239.9" r="1.8" fill="#00f800"/><circle cx="472.9" cy="240.6" r="1.8" fill="#00f800"/><circle cx="497.7" cy="238.5" r="1.8" fill="#00f800"/><circle cx="499.2" cy="248.4" r="1.8" fill="#00f800"/><circle cx="518.3" cy="243.7" r="1.8" fill="#00f800"/><circle cx="554.4" cy="253.4" r="1.8" fill="#00f800"/><circle cx="484.4" cy="265.4" r="1.8" fill="#00f800"/><circle cx="513.6" cy="266.4" r="1.8" fill="#00f800"/><circle cx="536.5" cy="273.3" r="1.8" fill="#00f800"/><circle cx="499.6" cy="278.0" r="1.8" fill="#00f800"/><circle cx="462.8" cy="269.8" r="1.8" fill="#00f800"/>
<path d="M709.1 117.6h5v5h-5zM723.8 122.2h5v5h-5zM724.3 124.7h5v5h-5zM740.3 113.8h5v5h-5zM767.1 115.9h5v5h-5zM750.7 128.9h5v5h-5zM731.0 133.7h5v5h-5zM720.7 139.9h5v5h-5zM747.4 141.1h5v5h-5zM693.9 152.9h5v5h-5zM735.6 154.6h5v5h-5zM779.4 136.5h5v5h-5zM781.3 137.7h5v5h-5zM804.2 134.8h5v5h-5zM776.9 145.8h5v5h-5zM771.8 148.7h5v5h-5zM777.7 154.6h5v5h-5zM766.3 161.0h5v5h-5zM779.4 161.3h5v5h-5zM784.0 164.7h5v5h-5zM757.0 164.7h5v5h-5zM763.0 170.8h5v5h-5zM752.4 172.8h5v5h-5zM798.8 170.6h5v5h-5zM773.0 183.4h5v5h-5zM784.0 188.5h5v5h-5zM712.8 187.6h5v5h-5zM714.1 194.7h5v5h-5zM694.6 198.4h5v5h-5zM710.6 199.8h5v5h-5zM709.4 204.0h5v5h-5zM738.9 208.5h5v5h-5zM738.1 215.0h5v5h-5zM786.2 215.5h5v5h-5zM713.6 225.1h5v5h-5zM744.8 226.8h5v5h-5zM683.1 237.2h5v5h-5zM690.0 256.6h5v5h-5zM665.4 266.7h5v5h-5zM674.7 264.7h5v5h-5zM693.2 273.1h5v5h-5zM690.7 275.2h5v5h-5zM741.5 267.6h5v5h-5zM780.8 94.9h5v5h-5zM762.0 107.9h5v5h-5zM754.1 115.8h5v5h-5zM773.8 113.8h5v5h-5zM745.7 148.3h5v5h-5zM773.5 131.8h5v5h-5zM785.6 132.8h5v5h-5zM774.3 137.7h5v5h-5zM787.0 151.2h5v5h-5zM758.8 174.0h5v5h-5zM792.9 174.5h5v5h-5zM789.9 178.9h5v5h-5zM816.0 173.8h5v5h-5zM771.3 186.6h5v5h-5zM779.4 195.2h5v5h-5zM744.3 200.1h5v5h-5zM806.4 198.3h5v5h-5zM792.1 203.5h5v5h-5zM754.1 211.1h5v5h-5zM773.2 214.3h5v5h-5zM795.4 212.9h5v5h-5zM694.1 267.6h5v5h-5zM768.1 270.6h5v5h-5z" fill="#000"/><circle cx="783.3" cy="97.4" r="1.8" fill="#00f800"/><circle cx="764.5" cy="110.4" r="1.8" fill="#00f800"/><circle cx="756.6" cy="118.3" r="1.8" fill="#00f800"/><circle cx="776.3" cy="116.3" r="1.8" fill="#00f800"/><circle cx="748.2" cy="150.8" r="1.8" fill="#00f800"/><circle cx="776.0" cy="134.3" r="1.8" fill="#00f800"/><circle cx="788.1" cy="135.3" r="1.8" fill="#00f800"/><circle cx="776.8" cy="140.2" r="1.8" fill="#00f800"/><circle cx="789.5" cy="153.7" r="1.8" fill="#00f800"/><circle cx="761.3" cy="176.5" r="1.8" fill="#00f800"/><circle cx="795.4" cy="177.0" r="1.8" fill="#00f800"/><circle cx="792.4" cy="181.4" r="1.8" fill="#00f800"/><circle cx="818.5" cy="176.3" r="1.8" fill="#00f800"/><circle cx="773.8" cy="189.1" r="1.8" fill="#00f800"/><circle cx="781.9" cy="197.7" r="1.8" fill="#00f800"/><circle cx="746.8" cy="202.6" r="1.8" fill="#00f800"/><circle cx="808.9" cy="200.8" r="1.8" fill="#00f800"/><circle cx="794.6" cy="206.0" r="1.8" fill="#00f800"/><circle cx="756.6" cy="213.6" r="1.8" fill="#00f800"/><circle cx="775.7" cy="216.8" r="1.8" fill="#00f800"/><circle cx="797.9" cy="215.4" r="1.8" fill="#00f800"/><circle cx="696.6" cy="270.1" r="1.8" fill="#00f800"/><circle cx="770.6" cy="273.1" r="1.8" fill="#00f800"/>
<clipPath id="cb"><rect x="122.7" y="305.6" width="701.2" height="138.3"/></clipPath><g clip-path="url(#cb)">
<polyline points="172.4,399.6 190.4,405.9 235.9,390.2 265.5,372.3 301.0,343.1 323.3,320.8" fill="none" stroke="#0000ff" stroke-width="1.7" stroke-linejoin="round"/><line x1="172.4" y1="395.1" x2="172.4" y2="405.5" stroke="#0000ff" stroke-width="1.5"/><path d="M170.2 399.6l2.2 -2.2l2.2 2.2l-2.2 2.2z" fill="#0000ff"/><line x1="190.4" y1="402.3" x2="190.4" y2="411.6" stroke="#0000ff" stroke-width="1.5"/><path d="M188.2 405.9l2.2 -2.2l2.2 2.2l-2.2 2.2z" fill="#0000ff"/><line x1="235.9" y1="387.2" x2="235.9" y2="393.3" stroke="#0000ff" stroke-width="1.5"/><path d="M233.7 390.2l2.2 -2.2l2.2 2.2l-2.2 2.2z" fill="#0000ff"/><line x1="265.5" y1="370.2" x2="265.5" y2="374.4" stroke="#0000ff" stroke-width="1.5"/><path d="M263.3 372.3l2.2 -2.2l2.2 2.2l-2.2 2.2z" fill="#0000ff"/><line x1="301.0" y1="341.0" x2="301.0" y2="345.2" stroke="#0000ff" stroke-width="1.5"/><path d="M298.8 343.1l2.2 -2.2l2.2 2.2l-2.2 2.2z" fill="#0000ff"/><line x1="323.3" y1="317.8" x2="323.3" y2="324.0" stroke="#0000ff" stroke-width="1.5"/><path d="M321.1 320.8l2.2 -2.2l2.2 2.2l-2.2 2.2z" fill="#0000ff"/>
<polyline points="242.7,405.9 274.7,379.5 299.3,358.7 324.7,334.1" fill="none" stroke="#ff0000" stroke-width="1.7" stroke-linejoin="round"/><line x1="242.7" y1="398.7" x2="242.7" y2="418.6" stroke="#ff0000" stroke-width="1.5"/><circle cx="242.7" cy="405.9" r="2.4" fill="#ff0000"/><line x1="274.7" y1="377.5" x2="274.7" y2="381.5" stroke="#ff0000" stroke-width="1.5"/><circle cx="274.7" cy="379.5" r="2.4" fill="#ff0000"/><line x1="299.3" y1="357.0" x2="299.3" y2="360.5" stroke="#ff0000" stroke-width="1.5"/><circle cx="299.3" cy="358.7" r="2.4" fill="#ff0000"/><line x1="324.7" y1="332.5" x2="324.7" y2="336.0" stroke="#ff0000" stroke-width="1.5"/><circle cx="324.7" cy="334.1" r="2.4" fill="#ff0000"/>
<polyline points="408.9,411.0 439.9,398.3 461.9,367.1 501.5,364.2 533.9,357.0 557.9,324.6" fill="none" stroke="#0000ff" stroke-width="1.7" stroke-linejoin="round"/><line x1="408.9" y1="405.6" x2="408.9" y2="419.1" stroke="#0000ff" stroke-width="1.5"/><path d="M406.7 411.0l2.2 -2.2l2.2 2.2l-2.2 2.2z" fill="#0000ff"/><line x1="439.9" y1="395.3" x2="439.9" y2="401.5" stroke="#0000ff" stroke-width="1.5"/><path d="M437.7 398.3l2.2 -2.2l2.2 2.2l-2.2 2.2z" fill="#0000ff"/><line x1="461.9" y1="365.5" x2="461.9" y2="368.7" stroke="#0000ff" stroke-width="1.5"/><path d="M459.7 367.1l2.2 -2.2l2.2 2.2l-2.2 2.2z" fill="#0000ff"/><line x1="501.5" y1="362.5" x2="501.5" y2="366.0" stroke="#0000ff" stroke-width="1.5"/><path d="M499.3 364.2l2.2 -2.2l2.2 2.2l-2.2 2.2z" fill="#0000ff"/><line x1="533.9" y1="354.5" x2="533.9" y2="359.5" stroke="#0000ff" stroke-width="1.5"/><path d="M531.7 357.0l2.2 -2.2l2.2 2.2l-2.2 2.2z" fill="#0000ff"/><line x1="557.9" y1="320.3" x2="557.9" y2="329.0" stroke="#0000ff" stroke-width="1.5"/><path d="M555.7 324.6l2.2 -2.2l2.2 2.2l-2.2 2.2z" fill="#0000ff"/>
<polyline points="464.2,385.3 500.6,365.9 537.9,375.8 559.3,356.7" fill="none" stroke="#ff0000" stroke-width="1.7" stroke-linejoin="round"/><line x1="464.2" y1="381.0" x2="464.2" y2="391.0" stroke="#ff0000" stroke-width="1.5"/><circle cx="464.2" cy="385.3" r="2.4" fill="#ff0000"/><line x1="500.6" y1="364.0" x2="500.6" y2="368.0" stroke="#ff0000" stroke-width="1.5"/><circle cx="500.6" cy="365.9" r="2.4" fill="#ff0000"/><line x1="537.9" y1="374.0" x2="537.9" y2="378.0" stroke="#ff0000" stroke-width="1.5"/><circle cx="537.9" cy="375.8" r="2.4" fill="#ff0000"/><line x1="559.3" y1="353.0" x2="559.3" y2="360.8" stroke="#ff0000" stroke-width="1.5"/><circle cx="559.3" cy="356.7" r="2.4" fill="#ff0000"/>
<polyline points="677.3,440.3 693.0,401.2 741.8,397.5 774.2,377.5 795.3,337.6" fill="none" stroke="#0000ff" stroke-width="1.7" stroke-linejoin="round"/><line x1="677.3" y1="431.6" x2="677.3" y2="443.2" stroke="#0000ff" stroke-width="1.5"/><path d="M675.1 440.3l2.2 -2.2l2.2 2.2l-2.2 2.2z" fill="#0000ff"/><line x1="693.0" y1="398.3" x2="693.0" y2="404.7" stroke="#0000ff" stroke-width="1.5"/><path d="M690.8 401.2l2.2 -2.2l2.2 2.2l-2.2 2.2z" fill="#0000ff"/><line x1="741.8" y1="393.1" x2="741.8" y2="401.8" stroke="#0000ff" stroke-width="1.5"/><path d="M739.6 397.5l2.2 -2.2l2.2 2.2l-2.2 2.2z" fill="#0000ff"/><line x1="774.2" y1="373.7" x2="774.2" y2="381.5" stroke="#0000ff" stroke-width="1.5"/><path d="M772.0 377.5l2.2 -2.2l2.2 2.2l-2.2 2.2z" fill="#0000ff"/><line x1="795.3" y1="331.8" x2="795.3" y2="344.8" stroke="#0000ff" stroke-width="1.5"/><path d="M793.1 337.6l2.2 -2.2l2.2 2.2l-2.2 2.2z" fill="#0000ff"/>
<polyline points="712.0,414.8 733.7,399.8 774.2,385.0 789.5,383.0" fill="none" stroke="#ff0000" stroke-width="1.7" stroke-linejoin="round"/><line x1="712.0" y1="405.6" x2="712.0" y2="433.0" stroke="#ff0000" stroke-width="1.5"/><circle cx="712.0" cy="414.8" r="2.4" fill="#ff0000"/><line x1="733.7" y1="396.3" x2="733.7" y2="404.7" stroke="#ff0000" stroke-width="1.5"/><circle cx="733.7" cy="399.8" r="2.4" fill="#ff0000"/><line x1="774.2" y1="382.0" x2="774.2" y2="388.0" stroke="#ff0000" stroke-width="1.5"/><circle cx="774.2" cy="385.0" r="2.4" fill="#ff0000"/><line x1="789.5" y1="375.8" x2="789.5" y2="393.1" stroke="#ff0000" stroke-width="1.5"/><circle cx="789.5" cy="383.0" r="2.4" fill="#ff0000"/>
</g>
<path d="M129.88 28.15L129.88 30.65M129.88 303.10L129.88 307.20M129.88 442.30L129.88 443.90M136.74 28.15L136.74 30.65M136.74 303.10L136.74 307.20M136.74 442.30L136.74 443.90M142.35 28.15L142.35 30.65M142.35 303.10L142.35 307.20M142.35 442.30L142.35 443.90M147.09 28.15L147.09 30.65M147.09 303.10L147.09 307.20M147.09 442.30L147.09 443.90M151.20 28.15L151.20 30.65M151.20 303.10L151.20 307.20M151.20 442.30L151.20 443.90M154.83 28.15L154.83 30.65M154.83 303.10L154.83 307.20M154.83 442.30L154.83 443.90M158.07 28.15L158.07 33.35M158.07 300.40L158.07 308.80M158.07 440.70L158.07 443.90M179.39 28.15L179.39 30.65M179.39 303.10L179.39 307.20M179.39 442.30L179.39 443.90M191.86 28.15L191.86 30.65M191.86 303.10L191.86 307.20M191.86 442.30L191.86 443.90M200.71 28.15L200.71 30.65M200.71 303.10L200.71 307.20M200.71 442.30L200.71 443.90M207.58 28.15L207.58 30.65M207.58 303.10L207.58 307.20M207.58 442.30L207.58 443.90M213.19 28.15L213.19 30.65M213.19 303.10L213.19 307.20M213.19 442.30L213.19 443.90M217.93 28.15L217.93 30.65M217.93 303.10L217.93 307.20M217.93 442.30L217.93 443.90M222.04 28.15L222.04 30.65M222.04 303.10L222.04 307.20M222.04 442.30L222.04 443.90M225.66 28.15L225.66 30.65M225.66 303.10L225.66 307.20M225.66 442.30L225.66 443.90M228.90 28.15L228.90 33.35M228.90 300.40L228.90 308.80M228.90 440.70L228.90 443.90M250.22 28.15L250.22 30.65M250.22 303.10L250.22 307.20M250.22 442.30L250.22 443.90M262.70 28.15L262.70 30.65M262.70 303.10L262.70 307.20M262.70 442.30L262.70 443.90M271.55 28.15L271.55 30.65M271.55 303.10L271.55 307.20M271.55 442.30L271.55 443.90M278.41 28.15L278.41 30.65M278.41 303.10L278.41 307.20M278.41 442.30L278.41 443.90M284.02 28.15L284.02 30.65M284.02 303.10L284.02 307.20M284.02 442.30L284.02 443.90M288.76 28.15L288.76 30.65M288.76 303.10L288.76 307.20M288.76 442.30L288.76 443.90M292.87 28.15L292.87 30.65M292.87 303.10L292.87 307.20M292.87 442.30L292.87 443.90M296.49 28.15L296.49 30.65M296.49 303.10L296.49 307.20M296.49 442.30L296.49 443.90M299.73 28.15L299.73 33.35M299.73 300.40L299.73 308.80M299.73 440.70L299.73 443.90M321.06 28.15L321.06 30.65M321.06 303.10L321.06 307.20M321.06 442.30L321.06 443.90M333.53 28.15L333.53 30.65M333.53 303.10L333.53 307.20M333.53 442.30L333.53 443.90M342.38 28.15L342.38 30.65M342.38 303.10L342.38 307.20M342.38 442.30L342.38 443.90M349.24 28.15L349.24 30.65M349.24 303.10L349.24 307.20M349.24 442.30L349.24 443.90M354.85 28.15L354.85 30.65M354.85 303.10L354.85 307.20M354.85 442.30L354.85 443.90M363.63 28.15L363.63 30.65M363.63 303.10L363.63 307.20M363.63 442.30L363.63 443.90M370.49 28.15L370.49 30.65M370.49 303.10L370.49 307.20M370.49 442.30L370.49 443.90M376.10 28.15L376.10 30.65M376.10 303.10L376.10 307.20M376.10 442.30L376.10 443.90M380.84 28.15L380.84 30.65M380.84 303.10L380.84 307.20M380.84 442.30L380.84 443.90M384.95 28.15L384.95 30.65M384.95 303.10L384.95 307.20M384.95 442.30L384.95 443.90M388.58 28.15L388.58 30.65M388.58 303.10L388.58 307.20M388.58 442.30L388.58 443.90M391.82 28.15L391.82 33.35M391.82 300.40L391.82 308.80M391.82 440.70L391.82 443.90M413.14 28.15L413.14 30.65M413.14 303.10L413.14 307.20M413.14 442.30L413.14 443.90M425.61 28.15L425.61 30.65M425.61 303.10L425.61 307.20M425.61 442.30L425.61 443.90M434.46 28.15L434.46 30.65M434.46 303.10L434.46 307.20M434.46 442.30L434.46 443.90M441.33 28.15L441.33 30.65M441.33 303.10L441.33 307.20M441.33 442.30L441.33 443.90M446.94 28.15L446.94 30.65M446.94 303.10L446.94 307.20M446.94 442.30L446.94 443.90M451.68 28.15L451.68 30.65M451.68 303.10L451.68 307.20M451.68 442.30L451.68 443.90M455.79 28.15L455.79 30.65M455.79 303.10L455.79 307.20M455.79 442.30L455.79 443.90M459.41 28.15L459.41 30.65M459.41 303.10L459.41 307.20M459.41 442.30L459.41 443.90M462.65 28.15L462.65 33.35M462.65 300.40L462.65 308.80M462.65 440.70L462.65 443.90M483.97 28.15L483.97 30.65M483.97 303.10L483.97 307.20M483.97 442.30L483.97 443.90M496.45 28.15L496.45 30.65M496.45 303.10L496.45 307.20M496.45 442.30L496.45 443.90M505.30 28.15L505.30 30.65M505.30 303.10L505.30 307.20M505.30 442.30L505.30 443.90M512.16 28.15L512.16 30.65M512.16 303.10L512.16 307.20M512.16 442.30L512.16 443.90M517.77 28.15L517.77 30.65M517.77 303.10L517.77 307.20M517.77 442.30L517.77 443.90M522.51 28.15L522.51 30.65M522.51 303.10L522.51 307.20M522.51 442.30L522.51 443.90M526.62 28.15L526.62 30.65M526.62 303.10L526.62 307.20M526.62 442.30L526.62 443.90M530.24 28.15L530.24 30.65M530.24 303.10L530.24 307.20M530.24 442.30L530.24 443.90M533.48 28.15L533.48 33.35M533.48 300.40L533.48 308.80M533.48 440.70L533.48 443.90M554.81 28.15L554.81 30.65M554.81 303.10L554.81 307.20M554.81 442.30L554.81 443.90M567.28 28.15L567.28 30.65M567.28 303.10L567.28 307.20M567.28 442.30L567.28 443.90M576.13 28.15L576.13 30.65M576.13 303.10L576.13 307.20M576.13 442.30L576.13 443.90M582.99 28.15L582.99 30.65M582.99 303.10L582.99 307.20M582.99 442.30L582.99 443.90M588.60 28.15L588.60 30.65M588.60 303.10L588.60 307.20M588.60 442.30L588.60 443.90M597.38 28.15L597.38 30.65M597.38 303.10L597.38 307.20M597.38 442.30L597.38 443.90M604.24 28.15L604.24 30.65M604.24 303.10L604.24 307.20M604.24 442.30L604.24 443.90M609.85 28.15L609.85 30.65M609.85 303.10L609.85 307.20M609.85 442.30L609.85 443.90M614.59 28.15L614.59 30.65M614.59 303.10L614.59 307.20M614.59 442.30L614.59 443.90M618.70 28.15L618.70 30.65M618.70 303.10L618.70 307.20M618.70 442.30L618.70 443.90M622.33 28.15L622.33 30.65M622.33 303.10L622.33 307.20M622.33 442.30L622.33 443.90M625.57 28.15L625.57 33.35M625.57 300.40L625.57 308.80M625.57 440.70L625.57 443.90M646.89 28.15L646.89 30.65M646.89 303.10L646.89 307.20M646.89 442.30L646.89 443.90M659.36 28.15L659.36 30.65M659.36 303.10L659.36 307.20M659.36 442.30L659.36 443.90M668.21 28.15L668.21 30.65M668.21 303.10L668.21 307.20M668.21 442.30L668.21 443.90M675.08 28.15L675.08 30.65M675.08 303.10L675.08 307.20M675.08 442.30L675.08 443.90M680.69 28.15L680.69 30.65M680.69 303.10L680.69 307.20M680.69 442.30L680.69 443.90M685.43 28.15L685.43 30.65M685.43 303.10L685.43 307.20M685.43 442.30L685.43 443.90M689.54 28.15L689.54 30.65M689.54 303.10L689.54 307.20M689.54 442.30L689.54 443.90M693.16 28.15L693.16 30.65M693.16 303.10L693.16 307.20M693.16 442.30L693.16 443.90M696.40 28.15L696.40 33.35M696.40 300.40L696.40 308.80M696.40 440.70L696.40 443.90M717.72 28.15L717.72 30.65M717.72 303.10L717.72 307.20M717.72 442.30L717.72 443.90M730.20 28.15L730.20 30.65M730.20 303.10L730.20 307.20M730.20 442.30L730.20 443.90M739.05 28.15L739.05 30.65M739.05 303.10L739.05 307.20M739.05 442.30L739.05 443.90M745.91 28.15L745.91 30.65M745.91 303.10L745.91 307.20M745.91 442.30L745.91 443.90M751.52 28.15L751.52 30.65M751.52 303.10L751.52 307.20M751.52 442.30L751.52 443.90M756.26 28.15L756.26 30.65M756.26 303.10L756.26 307.20M756.26 442.30L756.26 443.90M760.37 28.15L760.37 30.65M760.37 303.10L760.37 307.20M760.37 442.30L760.37 443.90M763.99 28.15L763.99 30.65M763.99 303.10L763.99 307.20M763.99 442.30L763.99 443.90M767.23 28.15L767.23 33.35M767.23 300.40L767.23 308.80M767.23 440.70L767.23 443.90M788.56 28.15L788.56 30.65M788.56 303.10L788.56 307.20M788.56 442.30L788.56 443.90M801.03 28.15L801.03 30.65M801.03 303.10L801.03 307.20M801.03 442.30L801.03 443.90M809.88 28.15L809.88 30.65M809.88 303.10L809.88 307.20M809.88 442.30L809.88 443.90M816.74 28.15L816.74 30.65M816.74 303.10L816.74 307.20M816.74 442.30L816.74 443.90M822.35 28.15L822.35 30.65M822.35 303.10L822.35 307.20M822.35 442.30L822.35 443.90M122.65 33.02L125.15 33.02M122.65 41.13L125.15 41.13M122.65 49.24L125.15 49.24M122.65 57.36L127.85 57.36M122.65 65.47L125.15 65.47M122.65 73.58L125.15 73.58M122.65 81.69L125.15 81.69M122.65 89.81L125.15 89.81M122.65 97.92L125.15 97.92M122.65 106.03L125.15 106.03M122.65 114.14L125.15 114.14M122.65 122.26L125.15 122.26M122.65 130.37L127.85 130.37M122.65 138.48L125.15 138.48M122.65 146.59L125.15 146.59M122.65 154.71L125.15 154.71M122.65 162.82L125.15 162.82M122.65 170.93L125.15 170.93M122.65 179.04L125.15 179.04M122.65 187.16L125.15 187.16M122.65 195.27L125.15 195.27M122.65 203.38L127.85 203.38M122.65 211.49L125.15 211.49M122.65 219.61L125.15 219.61M122.65 227.72L125.15 227.72M122.65 235.83L125.15 235.83M122.65 243.94L125.15 243.94M122.65 252.06L125.15 252.06M122.65 260.17L125.15 260.17M122.65 268.28L125.15 268.28M122.65 276.39L127.85 276.39M122.65 284.51L125.15 284.51M122.65 292.62L125.15 292.62M122.65 300.73L125.15 300.73M122.65 440.53L125.15 440.53M122.65 433.09L125.15 433.09M122.65 427.81L125.15 427.81M122.65 423.72L125.15 423.72M122.65 420.37L125.15 420.37M122.65 417.54L125.15 417.54M122.65 415.09L125.15 415.09M122.65 412.93L125.15 412.93M122.65 411.00L127.85 411.00M122.65 398.28L125.15 398.28M122.65 390.84L125.15 390.84M122.65 385.56L125.15 385.56M122.65 381.47L125.15 381.47M122.65 378.12L125.15 378.12M122.65 375.29L125.15 375.29M122.65 372.84L125.15 372.84M122.65 370.68L125.15 370.68M122.65 368.75L127.85 368.75M122.65 356.03L125.15 356.03M122.65 348.59L125.15 348.59M122.65 343.31L125.15 343.31M122.65 339.22L125.15 339.22M122.65 335.87L125.15 335.87M122.65 333.04L125.15 333.04M122.65 330.59L125.15 330.59M122.65 328.43L125.15 328.43M122.65 326.50L127.85 326.50M122.65 313.78L125.15 313.78M122.65 306.34L125.15 306.34M356.40 33.02L358.90 33.02M356.40 33.02L353.90 33.02M356.40 41.13L358.90 41.13M356.40 41.13L353.90 41.13M356.40 49.24L358.90 49.24M356.40 49.24L353.90 49.24M356.40 57.36L361.60 57.36M356.40 57.36L351.20 57.36M356.40 65.47L358.90 65.47M356.40 65.47L353.90 65.47M356.40 73.58L358.90 73.58M356.40 73.58L353.90 73.58M356.40 81.69L358.90 81.69M356.40 81.69L353.90 81.69M356.40 89.81L358.90 89.81M356.40 89.81L353.90 89.81M356.40 97.92L358.90 97.92M356.40 97.92L353.90 97.92M356.40 106.03L358.90 106.03M356.40 106.03L353.90 106.03M356.40 114.14L358.90 114.14M356.40 114.14L353.90 114.14M356.40 122.26L358.90 122.26M356.40 122.26L353.90 122.26M356.40 130.37L361.60 130.37M356.40 130.37L351.20 130.37M356.40 138.48L358.90 138.48M356.40 138.48L353.90 138.48M356.40 146.59L358.90 146.59M356.40 146.59L353.90 146.59M356.40 154.71L358.90 154.71M356.40 154.71L353.90 154.71M356.40 162.82L358.90 162.82M356.40 162.82L353.90 162.82M356.40 170.93L358.90 170.93M356.40 170.93L353.90 170.93M356.40 179.04L358.90 179.04M356.40 179.04L353.90 179.04M356.40 187.16L358.90 187.16M356.40 187.16L353.90 187.16M356.40 195.27L358.90 195.27M356.40 195.27L353.90 195.27M356.40 203.38L361.60 203.38M356.40 203.38L351.20 203.38M356.40 211.49L358.90 211.49M356.40 211.49L353.90 211.49M356.40 219.61L358.90 219.61M356.40 219.61L353.90 219.61M356.40 227.72L358.90 227.72M356.40 227.72L353.90 227.72M356.40 235.83L358.90 235.83M356.40 235.83L353.90 235.83M356.40 243.94L358.90 243.94M356.40 243.94L353.90 243.94M356.40 252.06L358.90 252.06M356.40 252.06L353.90 252.06M356.40 260.17L358.90 260.17M356.40 260.17L353.90 260.17M356.40 268.28L358.90 268.28M356.40 268.28L353.90 268.28M356.40 276.39L361.60 276.39M356.40 276.39L351.20 276.39M356.40 284.51L358.90 284.51M356.40 284.51L353.90 284.51M356.40 292.62L358.90 292.62M356.40 292.62L353.90 292.62M356.40 300.73L358.90 300.73M356.40 300.73L353.90 300.73M356.40 440.53L358.90 440.53M356.40 440.53L353.90 440.53M356.40 433.09L358.90 433.09M356.40 433.09L353.90 433.09M356.40 427.81L358.90 427.81M356.40 427.81L353.90 427.81M356.40 423.72L358.90 423.72M356.40 423.72L353.90 423.72M356.40 420.37L358.90 420.37M356.40 420.37L353.90 420.37M356.40 417.54L358.90 417.54M356.40 417.54L353.90 417.54M356.40 415.09L358.90 415.09M356.40 415.09L353.90 415.09M356.40 412.93L358.90 412.93M356.40 412.93L353.90 412.93M356.40 411.00L361.60 411.00M356.40 411.00L351.20 411.00M356.40 398.28L358.90 398.28M356.40 398.28L353.90 398.28M356.40 390.84L358.90 390.84M356.40 390.84L353.90 390.84M356.40 385.56L358.90 385.56M356.40 385.56L353.90 385.56M356.40 381.47L358.90 381.47M356.40 381.47L353.90 381.47M356.40 378.12L358.90 378.12M356.40 378.12L353.90 378.12M356.40 375.29L358.90 375.29M356.40 375.29L353.90 375.29M356.40 372.84L358.90 372.84M356.40 372.84L353.90 372.84M356.40 370.68L358.90 370.68M356.40 370.68L353.90 370.68M356.40 368.75L361.60 368.75M356.40 368.75L351.20 368.75M356.40 356.03L358.90 356.03M356.40 356.03L353.90 356.03M356.40 348.59L358.90 348.59M356.40 348.59L353.90 348.59M356.40 343.31L358.90 343.31M356.40 343.31L353.90 343.31M356.40 339.22L358.90 339.22M356.40 339.22L353.90 339.22M356.40 335.87L358.90 335.87M356.40 335.87L353.90 335.87M356.40 333.04L358.90 333.04M356.40 333.04L353.90 333.04M356.40 330.59L358.90 330.59M356.40 330.59L353.90 330.59M356.40 328.43L358.90 328.43M356.40 328.43L353.90 328.43M356.40 326.50L361.60 326.50M356.40 326.50L351.20 326.50M356.40 313.78L358.90 313.78M356.40 313.78L353.90 313.78M356.40 306.34L358.90 306.34M356.40 306.34L353.90 306.34M590.15 33.02L592.65 33.02M590.15 33.02L587.65 33.02M590.15 41.13L592.65 41.13M590.15 41.13L587.65 41.13M590.15 49.24L592.65 49.24M590.15 49.24L587.65 49.24M590.15 57.36L595.35 57.36M590.15 57.36L584.95 57.36M590.15 65.47L592.65 65.47M590.15 65.47L587.65 65.47M590.15 73.58L592.65 73.58M590.15 73.58L587.65 73.58M590.15 81.69L592.65 81.69M590.15 81.69L587.65 81.69M590.15 89.81L592.65 89.81M590.15 89.81L587.65 89.81M590.15 97.92L592.65 97.92M590.15 97.92L587.65 97.92M590.15 106.03L592.65 106.03M590.15 106.03L587.65 106.03M590.15 114.14L592.65 114.14M590.15 114.14L587.65 114.14M590.15 122.26L592.65 122.26M590.15 122.26L587.65 122.26M590.15 130.37L595.35 130.37M590.15 130.37L584.95 130.37M590.15 138.48L592.65 138.48M590.15 138.48L587.65 138.48M590.15 146.59L592.65 146.59M590.15 146.59L587.65 146.59M590.15 154.71L592.65 154.71M590.15 154.71L587.65 154.71M590.15 162.82L592.65 162.82M590.15 162.82L587.65 162.82M590.15 170.93L592.65 170.93M590.15 170.93L587.65 170.93M590.15 179.04L592.65 179.04M590.15 179.04L587.65 179.04M590.15 187.16L592.65 187.16M590.15 187.16L587.65 187.16M590.15 195.27L592.65 195.27M590.15 195.27L587.65 195.27M590.15 203.38L595.35 203.38M590.15 203.38L584.95 203.38M590.15 211.49L592.65 211.49M590.15 211.49L587.65 211.49M590.15 219.61L592.65 219.61M590.15 219.61L587.65 219.61M590.15 227.72L592.65 227.72M590.15 227.72L587.65 227.72M590.15 235.83L592.65 235.83M590.15 235.83L587.65 235.83M590.15 243.94L592.65 243.94M590.15 243.94L587.65 243.94M590.15 252.06L592.65 252.06M590.15 252.06L587.65 252.06M590.15 260.17L592.65 260.17M590.15 260.17L587.65 260.17M590.15 268.28L592.65 268.28M590.15 268.28L587.65 268.28M590.15 276.39L595.35 276.39M590.15 276.39L584.95 276.39M590.15 284.51L592.65 284.51M590.15 284.51L587.65 284.51M590.15 292.62L592.65 292.62M590.15 292.62L587.65 292.62M590.15 300.73L592.65 300.73M590.15 300.73L587.65 300.73M590.15 440.53L592.65 440.53M590.15 440.53L587.65 440.53M590.15 433.09L592.65 433.09M590.15 433.09L587.65 433.09M590.15 427.81L592.65 427.81M590.15 427.81L587.65 427.81M590.15 423.72L592.65 423.72M590.15 423.72L587.65 423.72M590.15 420.37L592.65 420.37M590.15 420.37L587.65 420.37M590.15 417.54L592.65 417.54M590.15 417.54L587.65 417.54M590.15 415.09L592.65 415.09M590.15 415.09L587.65 415.09M590.15 412.93L592.65 412.93M590.15 412.93L587.65 412.93M590.15 411.00L595.35 411.00M590.15 411.00L584.95 411.00M590.15 398.28L592.65 398.28M590.15 398.28L587.65 398.28M590.15 390.84L592.65 390.84M590.15 390.84L587.65 390.84M590.15 385.56L592.65 385.56M590.15 385.56L587.65 385.56M590.15 381.47L592.65 381.47M590.15 381.47L587.65 381.47M590.15 378.12L592.65 378.12M590.15 378.12L587.65 378.12M590.15 375.29L592.65 375.29M590.15 375.29L587.65 375.29M590.15 372.84L592.65 372.84M590.15 372.84L587.65 372.84M590.15 370.68L592.65 370.68M590.15 370.68L587.65 370.68M590.15 368.75L595.35 368.75M590.15 368.75L584.95 368.75M590.15 356.03L592.65 356.03M590.15 356.03L587.65 356.03M590.15 348.59L592.65 348.59M590.15 348.59L587.65 348.59M590.15 343.31L592.65 343.31M590.15 343.31L587.65 343.31M590.15 339.22L592.65 339.22M590.15 339.22L587.65 339.22M590.15 335.87L592.65 335.87M590.15 335.87L587.65 335.87M590.15 333.04L592.65 333.04M590.15 333.04L587.65 333.04M590.15 330.59L592.65 330.59M590.15 330.59L587.65 330.59M590.15 328.43L592.65 328.43M590.15 328.43L587.65 328.43M590.15 326.50L595.35 326.50M590.15 326.50L584.95 326.50M590.15 313.78L592.65 313.78M590.15 313.78L587.65 313.78M590.15 306.34L592.65 306.34M590.15 306.34L587.65 306.34M823.90 33.02L821.40 33.02M823.90 41.13L821.40 41.13M823.90 49.24L821.40 49.24M823.90 57.36L818.70 57.36M823.90 65.47L821.40 65.47M823.90 73.58L821.40 73.58M823.90 81.69L821.40 81.69M823.90 89.81L821.40 89.81M823.90 97.92L821.40 97.92M823.90 106.03L821.40 106.03M823.90 114.14L821.40 114.14M823.90 122.26L821.40 122.26M823.90 130.37L818.70 130.37M823.90 138.48L821.40 138.48M823.90 146.59L821.40 146.59M823.90 154.71L821.40 154.71M823.90 162.82L821.40 162.82M823.90 170.93L821.40 170.93M823.90 179.04L821.40 179.04M823.90 187.16L821.40 187.16M823.90 195.27L821.40 195.27M823.90 203.38L818.70 203.38M823.90 211.49L821.40 211.49M823.90 219.61L821.40 219.61M823.90 227.72L821.40 227.72M823.90 235.83L821.40 235.83M823.90 243.94L821.40 243.94M823.90 252.06L821.40 252.06M823.90 260.17L821.40 260.17M823.90 268.28L821.40 268.28M823.90 276.39L818.70 276.39M823.90 284.51L821.40 284.51M823.90 292.62L821.40 292.62M823.90 300.73L821.40 300.73M823.90 440.53L821.40 440.53M823.90 433.09L821.40 433.09M823.90 427.81L821.40 427.81M823.90 423.72L821.40 423.72M823.90 420.37L821.40 420.37M823.90 417.54L821.40 417.54M823.90 415.09L821.40 415.09M823.90 412.93L821.40 412.93M823.90 411.00L818.70 411.00M823.90 398.28L821.40 398.28M823.90 390.84L821.40 390.84M823.90 385.56L821.40 385.56M823.90 381.47L821.40 381.47M823.90 378.12L821.40 378.12M823.90 375.29L821.40 375.29M823.90 372.84L821.40 372.84M823.90 370.68L821.40 370.68M823.90 368.75L818.70 368.75M823.90 356.03L821.40 356.03M823.90 348.59L821.40 348.59M823.90 343.31L821.40 343.31M823.90 339.22L821.40 339.22M823.90 335.87L821.40 335.87M823.90 333.04L821.40 333.04M823.90 330.59L821.40 330.59M823.90 328.43L821.40 328.43M823.90 326.50L818.70 326.50M823.90 313.78L821.40 313.78M823.90 306.34L821.40 306.34" stroke="#000" stroke-width="1.3" fill="none" stroke-linecap="butt"/>
<path d="M121.85 28.15L824.70 28.15M121.85 305.60L824.70 305.60M121.85 443.90L824.70 443.90M122.65 28.15L122.65 443.90M356.40 28.15L356.40 443.90M590.15 28.15L590.15 443.90M823.90 28.15L823.90 443.90" stroke="#000" stroke-width="1.6" fill="none" stroke-linecap="butt"/>
<g opacity="0.999">
<text x="117.1" y="63.3" font-size="18.0" text-anchor="end">2.0</text>
<text x="117.1" y="136.3" font-size="18.0" text-anchor="end">1.5</text>
<text x="117.1" y="209.3" font-size="18.0" text-anchor="end">1.0</text>
<text x="117.1" y="282.3" font-size="18.0" text-anchor="end">0.5</text>
<text x="88.0" y="332.8" font-size="17.5">10</text><text x="107.3" y="324.9" font-size="11">-1</text>
<text x="88.0" y="375.1" font-size="17.5">10</text><text x="107.3" y="367.1" font-size="11">-2</text>
<text x="88.0" y="417.3" font-size="17.5">10</text><text x="107.3" y="409.4" font-size="11">-3</text>
<text x="145.1" y="466.8" font-size="17.5">10</text><text x="165.1" y="459.2" font-size="11">9</text>
<text x="213.2" y="466.8" font-size="17.5">10</text><text x="233.2" y="459.2" font-size="11">10</text>
<text x="284.0" y="466.8" font-size="17.5">10</text><text x="304.0" y="459.2" font-size="11">11</text>
<text x="207.2" y="487.1" font-size="17.5">M</text>
<text x="223.2" y="490.5" font-size="9">*</text>
<text x="232.4" y="487.1" font-size="17.5">[M</text>
<circle cx="258.0" cy="488.1" r="3.9" fill="none" stroke="#000" stroke-width="1"/><circle cx="258.0" cy="488.1" r="1.2" fill="#000"/>
<text x="264.6" y="487.1" font-size="17.5">]</text>
<text x="378.8" y="466.8" font-size="17.5">10</text><text x="398.8" y="459.2" font-size="11">9</text>
<text x="446.9" y="466.8" font-size="17.5">10</text><text x="466.9" y="459.2" font-size="11">10</text>
<text x="517.7" y="466.8" font-size="17.5">10</text><text x="537.7" y="459.2" font-size="11">11</text>
<text x="440.9" y="487.1" font-size="17.5">M</text>
<text x="456.9" y="490.5" font-size="9">*</text>
<text x="466.1" y="487.1" font-size="17.5">[M</text>
<circle cx="491.8" cy="488.1" r="3.9" fill="none" stroke="#000" stroke-width="1"/><circle cx="491.8" cy="488.1" r="1.2" fill="#000"/>
<text x="498.4" y="487.1" font-size="17.5">]</text>
<text x="612.6" y="466.8" font-size="17.5">10</text><text x="632.6" y="459.2" font-size="11">9</text>
<text x="680.6" y="466.8" font-size="17.5">10</text><text x="700.6" y="459.2" font-size="11">10</text>
<text x="751.5" y="466.8" font-size="17.5">10</text><text x="771.5" y="459.2" font-size="11">11</text>
<text x="674.7" y="487.1" font-size="17.5">M</text>
<text x="690.7" y="490.5" font-size="9">*</text>
<text x="699.9" y="487.1" font-size="17.5">[M</text>
<circle cx="725.5" cy="488.1" r="3.9" fill="none" stroke="#000" stroke-width="1"/><circle cx="725.5" cy="488.1" r="1.2" fill="#000"/>
<text x="732.1" y="487.1" font-size="17.5">]</text>
<text x="135.1" y="55.7" font-size="21.3">X-ray</text>
<text x="368.8" y="55.7" font-size="21.3">Stern</text>
<text x="602.5" y="55.7" font-size="21.3">Donley</text>
<text transform="translate(77,167) rotate(-90)" font-size="17.8" text-anchor="middle">(u - g)</text>
<text transform="translate(56.6,374.3) rotate(-90)" font-size="18.1" text-anchor="middle">Fraction of Galaxies</text>
<text transform="translate(72.7,374.3) rotate(-90)" font-size="18.4" text-anchor="middle">that are AGNs</text>
</g>
</svg></body></html>
